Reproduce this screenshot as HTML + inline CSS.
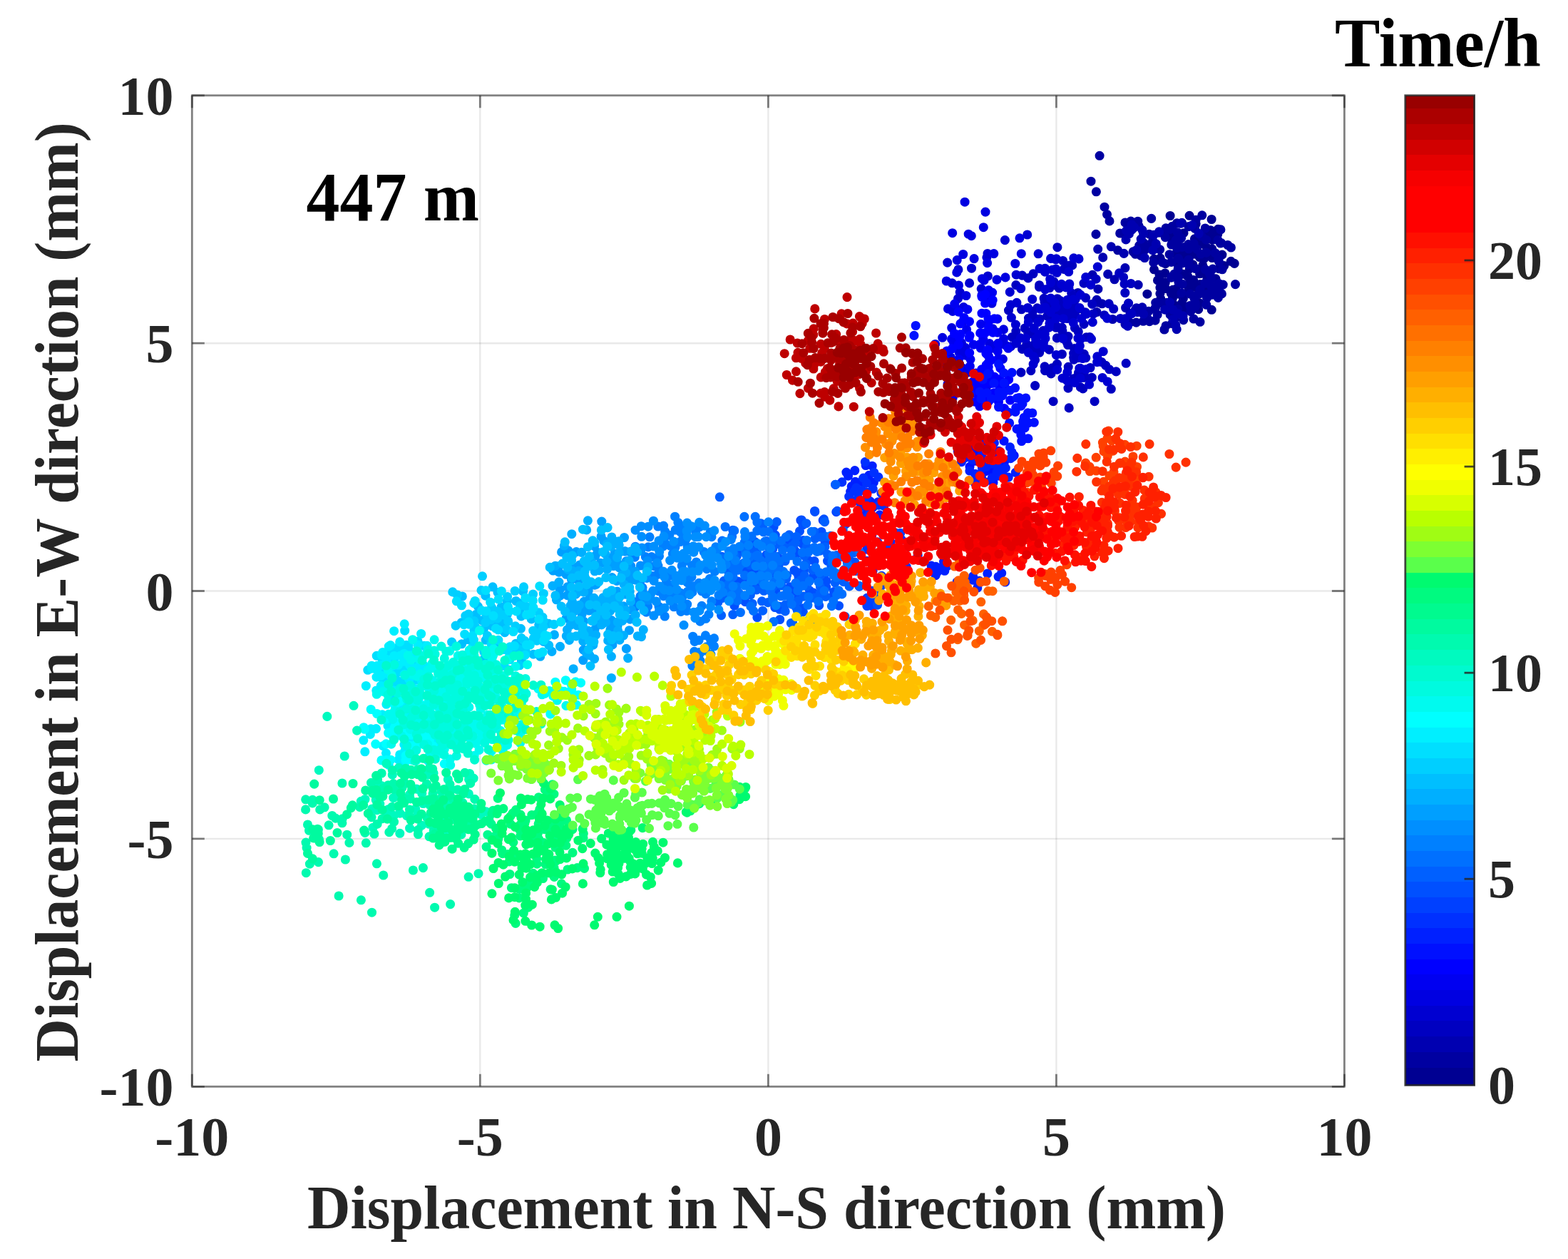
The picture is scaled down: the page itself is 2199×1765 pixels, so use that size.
<!DOCTYPE html>
<html lang="en">
<head>
<meta charset="utf-8">
<title>Displacement scatter, 447 m</title>
<style>
html,body{margin:0;padding:0;background:#fff;}
body{width:2199px;height:1765px;overflow:hidden;}
svg{display:block;filter:blur(0.7px);}
</style>
</head>
<body>
<svg width="2199" height="1765" viewBox="0 0 2199 1765" font-family="'Liberation Serif', 'Times New Roman', serif" font-weight="bold">
<rect width="2199" height="1765" fill="#fff"/>
<g stroke="#262626" stroke-opacity="0.10" stroke-width="2.4" fill="none">
<line x1="673.3" y1="133.8" x2="673.3" y2="1523.3"/>
<line x1="269.3" y1="1175.9" x2="1885.4" y2="1175.9"/>
<line x1="1077.4" y1="133.8" x2="1077.4" y2="1523.3"/>
<line x1="269.3" y1="828.5" x2="1885.4" y2="828.5"/>
<line x1="1481.4" y1="133.8" x2="1481.4" y2="1523.3"/>
<line x1="269.3" y1="481.2" x2="1885.4" y2="481.2"/>
</g>
<g fill="none" stroke-linecap="round" stroke-width="13.1">
<path stroke="#000092" d="M1707.4 411.8h0M1618.5 363.1h0M1650.3 342.2h0M1677.1 314.1h0M1627.8 419.0h0M1626.9 403.0h0M1682.2 424.8h0M1713.9 357.1h0M1667.0 405.6h0M1626.3 392.6h0M1699.2 434.3h0M1699.9 361.5h0M1688.6 362.6h0M1659.0 384.3h0M1731.2 369.4h0M1648.5 356.1h0M1705.0 390.8h0M1699.1 307.5h0M1683.0 398.6h0M1700.3 336.4h0M1643.3 335.7h0M1657.5 425.2h0M1682.3 360.5h0M1649.8 412.3h0M1682.5 342.3h0M1641.1 302.5h0M1644.3 418.4h0M1683.3 376.9h0M1726.3 366.4h0M1660.0 326.7h0M1633.9 383.0h0M1634.3 396.1h0M1688.1 329.4h0M1667.9 356.3h0M1647.9 428.4h0M1672.9 371.0h0M1626.0 385.0h0M1686.8 372.0h0M1659.5 432.8h0M1652.7 382.6h0M1699.8 349.0h0M1636.9 328.8h0M1623.5 392.9h0M1707.7 328.4h0M1676.5 402.4h0M1675.4 334.8h0M1643.3 433.1h0M1668.1 302.3h0M1680.7 433.7h0M1716.7 372.6h0M1661.3 365.9h0M1659.0 354.4h0M1659.4 418.4h0M1634.5 369.7h0M1673.6 392.6h0M1708.2 321.3h0M1649.1 405.3h0M1618.5 377.8h0M1650.7 368.9h0M1697.9 355.8h0M1692.8 389.1h0M1682.6 383.8h0M1642.3 411.2h0M1667.6 434.6h0M1673.6 356.3h0M1626.9 411.6h0M1660.1 437.0h0M1700.0 328.6h0M1665.8 387.5h0M1692.2 347.0h0M1644.8 406.4h0M1668.2 376.9h0M1641.5 327.6h0M1627.2 361.9h0M1697.7 322.7h0M1608.9 412.2h0M1634.5 404.4h0M1667.9 396.9h0M1709.3 376.6h0M1634.4 431.6h0M1690.8 405.0h0"/>
<path stroke="#0000a1" d="M1609.8 343.4h0M1692.5 417.8h0M1657.7 346.3h0M1691.8 427.3h0M1650.5 347.6h0M1667.1 364.2h0M1698.7 401.6h0M1709.0 414.2h0M1578.0 312.0h0M1708.6 406.3h0M1640.1 356.7h0M1711.9 321.9h0M1685.3 331.3h0M1556.0 309.9h0M1676.4 376.5h0M1679.6 413.1h0M1708.0 336.6h0M1589.1 352.8h0M1732.5 398.6h0M1689.8 397.1h0M1593.5 452.1h0M1642.7 367.4h0M1712.7 340.6h0M1640.7 321.4h0M1592.3 356.3h0M1658.1 368.9h0M1603.4 340.1h0M1656.9 410.8h0M1709.4 366.6h0M1614.7 306.4h0M1620.1 449.1h0M1647.1 447.3h0M1691.8 354.1h0M1721.8 343.5h0M1611.6 328.2h0M1667.0 317.6h0M1646.8 384.2h0M1609.4 446.6h0M1704.3 354.7h0M1667.1 348.8h0M1695.8 382.4h0M1595.7 310.2h0M1552.5 300.6h0M1652.9 395.5h0M1585.9 310.1h0M1652.1 376.9h0M1700.8 377.1h0M1708.4 417.4h0M1691.6 336.2h0M1697.3 385.5h0M1726.4 347.0h0M1603.3 450.3h0M1611.1 436.2h0M1690.2 320.0h0M1683.9 356.0h0M1542.1 218.3h0M1711.5 341.0h0M1675.7 320.3h0M1651.3 325.8h0M1674.2 341.6h0M1683.0 451.3h0M1570.7 327.0h0M1600.0 358.4h0M1537.4 268.8h0M1714.1 377.8h0M1699.7 413.3h0M1635.0 319.8h0M1709.4 397.6h0M1669.8 436.6h0M1642.8 343.0h0M1632.9 462.0h0M1676.4 424.8h0M1650.6 312.7h0M1652.5 362.3h0M1651.7 433.5h0M1643.7 453.7h0M1617.8 367.9h0M1674.0 447.0h0M1537.0 328.4h0M1668.8 428.5h0M1549.0 290.2h0M1690.4 377.8h0M1616.7 337.7h0M1713.4 411.9h0M1630.3 367.9h0M1658.2 398.2h0M1626.7 349.8h0M1605.5 350.4h0M1567.6 350.8h0M1666.6 342.6h0M1597.2 316.8h0M1692.8 412.5h0M1636.4 424.4h0M1715.2 399.1h0M1648.9 336.9h0M1674.9 418.1h0M1685.8 301.8h0M1641.1 441.0h0M1656.6 333.8h0M1597.8 344.2h0M1634.2 332.6h0M1659.7 448.6h0M1708.9 363.0h0M1623.2 441.0h0M1657.5 312.3h0M1652.2 389.2h0M1669.2 412.2h0M1677.1 308.2h0M1530.0 254.2h0M1678.7 349.3h0M1642.7 389.1h0M1625.4 326.1h0M1643.9 317.4h0M1635.1 456.7h0M1698.4 391.3h0M1612.1 450.6h0M1584.6 452.1h0M1620.7 424.3h0M1676.5 429.5h0M1666.7 370.6h0M1683.0 406.1h0M1628.6 424.8h0M1682.2 411.8h0M1576.2 328.0h0M1620.4 431.5h0"/>
<path stroke="#0000b1" d="M1644.8 434.1h0M1603.6 327.5h0M1577.9 375.6h0M1659.1 442.8h0M1595.2 437.6h0M1587.3 322.2h0M1539.0 424.0h0M1601.9 430.8h0M1593.8 431.9h0M1587.0 314.9h0M1616.7 350.9h0M1650.2 461.6h0M1539.9 405.2h0M1546.7 360.9h0M1625.5 324.9h0M1648.8 455.6h0M1593.9 350.5h0M1671.9 315.7h0M1578.6 431.5h0M1539.7 349.3h0M1590.8 318.8h0M1583.4 327.9h0M1633.6 434.2h0M1621.3 341.9h0M1511.7 410.5h0M1558.3 345.8h0M1579.6 323.3h0M1603.6 440.3h0M1681.2 327.3h0M1579.0 335.9h0M1553.7 384.4h0M1600.2 335.1h0M1538.1 420.3h0M1655.7 313.3h0M1532.1 385.4h0M1602.0 322.6h0M1645.0 447.7h0M1640.7 423.8h0M1618.0 329.4h0M1576.2 355.4h0M1560.4 447.5h0M1596.2 399.3h0M1592.5 434.1h0M1563.0 391.8h0M1545.5 425.8h0M1652.1 439.9h0M1538.0 437.5h0M1578.0 454.5h0M1605.3 361.5h0M1585.0 439.2h0"/>
<path stroke="#0000c1" d="M1489.9 464.2h0M1581.5 457.1h0M1425.2 476.0h0M1476.3 400.1h0M1457.5 402.3h0M1505.6 495.3h0M1482.9 418.7h0M1464.1 418.4h0M1462.9 463.6h0M1507.4 459.7h0M1496.7 446.5h0M1579.2 509.3h0M1490.6 365.5h0M1505.7 530.7h0M1499.2 571.9h0M1451.6 540.6h0M1520.0 397.1h0M1441.9 389.9h0M1414.5 435.1h0M1482.3 473.9h0M1512.4 522.6h0M1512.3 464.9h0M1529.0 515.5h0M1498.0 544.1h0M1419.4 472.5h0M1550.7 512.4h0M1480.6 456.3h0M1506.6 488.5h0M1558.3 545.3h0M1473.5 445.8h0M1502.7 410.9h0M1454.7 431.8h0M1492.0 377.4h0M1489.3 459.1h0M1513.8 516.5h0M1577.0 397.9h0M1555.2 425.8h0M1496.1 479.5h0M1474.9 426.6h0M1514.3 432.8h0M1437.3 460.0h0M1522.8 501.7h0M1497.6 483.5h0M1522.6 417.6h0M1465.1 513.8h0M1486.5 421.4h0M1523.5 472.8h0M1586.9 439.8h0M1520.1 454.4h0M1548.6 441.7h0M1458.1 447.1h0M1477.1 562.7h0M1448.3 436.5h0M1471.4 490.1h0M1491.6 440.8h0M1520.3 496.3h0M1424.8 464.3h0M1508.2 419.6h0M1500.1 372.0h0M1442.5 446.1h0M1477.9 395.0h0M1472.2 403.6h0M1531.7 426.4h0M1450.7 482.8h0M1465.5 519.7h0M1533.1 440.0h0M1515.4 542.9h0M1449.9 445.2h0M1522.0 437.7h0M1561.7 433.0h0M1497.9 432.0h0M1432.5 433.8h0M1507.4 440.7h0M1569.6 382.9h0M1489.4 496.5h0M1565.3 520.9h0M1472.7 452.3h0M1504.3 445.9h0M1446.5 467.7h0M1482.5 510.3h0M1481.0 459.3h0M1555.8 517.8h0M1439.8 482.6h0M1451.6 504.7h0M1505.6 500.9h0M1433.5 386.1h0M1575.6 388.7h0M1449.9 489.6h0M1457.6 399.7h0M1465.0 423.5h0M1504.3 437.8h0M1475.8 515.7h0M1498.0 439.4h0M1498.1 471.6h0M1431.9 522.1h0M1512.8 501.6h0M1577.8 410.5h0M1457.7 494.3h0M1506.1 504.1h0M1506.5 426.7h0M1485.4 404.0h0M1578.0 446.7h0M1505.4 432.0h0M1445.8 519.7h0M1433.5 489.4h0M1535.1 562.7h0M1449.0 383.8h0M1520.0 529.4h0M1528.1 472.5h0M1498.2 514.3h0M1424.8 399.6h0M1537.1 391.2h0M1468.7 443.1h0M1571.2 446.5h0M1482.8 441.5h0M1441.3 465.3h0M1531.3 529.2h0M1456.3 487.4h0M1490.3 432.5h0M1582.6 425.1h0M1520.2 523.0h0M1518.7 544.9h0M1513.8 493.3h0M1586.0 397.5h0M1474.0 523.9h0M1482.9 346.7h0M1544.8 507.5h0M1503.7 371.9h0"/>
<path stroke="#0000d1" d="M1538.6 507.6h0M1473.5 396.4h0M1538.8 499.9h0M1359.6 396.9h0M1518.3 502.5h0M1431.2 473.9h0M1442.3 451.7h0M1547.2 492.7h0M1385.4 387.0h0M1416.3 409.4h0M1343.5 418.7h0M1385.0 355.5h0M1454.5 482.3h0M1455.8 451.7h0M1511.9 474.1h0M1490.0 530.2h0M1456.1 355.8h0M1496.8 426.8h0M1552.8 446.3h0M1514.9 530.2h0M1471.1 459.2h0M1496.8 521.9h0M1480.6 430.6h0M1473.3 437.5h0M1449.1 510.5h0M1466.0 474.4h0M1488.7 398.4h0M1418.4 445.3h0M1514.9 516.2h0M1530.5 475.3h0M1473.5 418.1h0M1490.6 474.5h0M1343.9 377.9h0M1442.4 494.3h0M1425.9 424.4h0M1376.2 404.8h0M1515.5 475.4h0M1482.2 382.3h0M1362.5 376.2h0M1494.8 402.9h0M1465.8 405.8h0M1482.7 518.2h0M1513.2 489.8h0M1546.1 529.5h0M1480.7 377.0h0M1505.2 452.3h0M1464.6 486.7h0M1481.5 362.8h0M1417.4 427.4h0M1498.7 381.0h0M1471.9 453.6h0M1328.7 368.1h0M1473.6 362.4h0M1496.8 420.5h0M1496.5 533.7h0M1498.9 403.2h0M1491.1 446.7h0M1480.7 363.8h0M1449.5 499.9h0M1447.7 419.5h0M1424.4 455.1h0M1499.8 398.0h0M1553.2 535.0h0M1438.4 474.2h0M1431.7 404.5h0M1513.0 362.9h0M1466.1 432.5h0M1522.7 388.6h0M1481.1 446.6h0M1346.2 409.6h0M1425.2 385.2h0M1505.8 361.8h0M1465.7 431.1h0M1450.3 460.2h0M1475.9 378.4h0M1465.5 376.2h0M1539.3 374.1h0M1514.4 484.8h0M1458.0 376.5h0M1417.6 485.7h0M1465.5 381.1h0M1529.7 399.4h0M1383.9 360.8h0M1425.5 481.2h0M1463.5 480.2h0M1479.0 424.1h0M1441.4 431.5h0M1507.1 536.4h0M1472.7 391.5h0M1505.3 419.8h0M1457.1 468.7h0M1465.3 468.0h0M1459.3 433.3h0M1522.8 517.8h0M1514.0 431.5h0M1452.5 475.0h0M1515.3 413.4h0M1335.2 396.8h0M1409.4 336.6h0M1523.9 440.1h0M1527.6 539.0h0M1481.3 497.6h0M1516.6 446.5h0M1440.7 329.0h0M1532.3 451.7h0"/>
<path stroke="#0000e1" d="M1391.4 488.1h0M1380.1 392.9h0M1391.0 425.3h0M1382.0 297.1h0M1430.0 333.8h0M1376.6 525.9h0M1350.0 516.1h0M1342.7 434.0h0M1406.4 503.3h0M1392.1 460.7h0M1407.5 474.9h0M1334.7 459.6h0M1327.3 394.0h0M1336.0 436.4h0M1377.2 564.9h0M1407.4 461.9h0M1387.6 481.5h0M1353.1 283.2h0M1351.9 520.3h0M1384.6 368.6h0M1354.0 487.6h0M1398.0 392.1h0M1329.5 432.9h0M1399.1 487.1h0M1348.5 480.7h0M1384.9 515.5h0M1393.8 355.6h0M1354.2 498.1h0M1345.2 494.0h0M1342.2 364.6h0M1432.3 355.7h0M1409.1 538.3h0M1379.3 318.7h0M1362.3 330.7h0M1383.1 544.3h0M1335.7 326.7h0M1354.9 414.5h0M1341.8 381.9h0M1311.6 482.5h0M1410.7 484.4h0M1377.4 390.7h0M1358.2 328.2h0M1423.8 369.5h0M1350.0 451.3h0M1410.0 388.9h0M1344.5 400.0h0M1333.4 501.0h0M1357.2 522.0h0M1351.3 430.6h0M1386.7 418.9h0M1386.5 499.3h0M1350.7 356.5h0M1366.1 362.6h0M1321.7 473.3h0"/>
<path stroke="#0000f1" d="M1391.6 410.1h0M1334.6 475.4h0M1387.2 449.8h0M1356.9 433.7h0M1337.7 481.2h0M1338.8 426.1h0M1390.5 530.3h0M1399.7 481.3h0M1361.0 503.8h0M1382.5 549.1h0M1384.5 559.2h0M1365.4 483.1h0M1329.1 538.3h0M1376.8 413.9h0M1355.6 461.9h0M1364.5 535.1h0M1351.1 542.2h0M1376.4 552.2h0M1361.0 552.0h0M1375.4 488.0h0M1376.2 529.3h0M1398.8 447.1h0M1386.5 406.8h0M1386.2 508.4h0M1400.0 503.0h0M1344.6 503.5h0M1373.9 569.5h0M1360.3 513.4h0M1378.8 474.8h0M1414.0 488.3h0M1398.9 466.1h0M1327.1 509.9h0M1399.2 492.5h0M1375.1 482.0h0M1381.2 530.3h0M1336.2 557.7h0M1375.6 454.4h0"/>
<path stroke="#0000ff" d="M1352.1 445.5h0M1345.5 472.9h0M1359.7 494.7h0M1327.9 492.0h0M1386.1 563.2h0M1378.6 542.7h0M1383.3 537.3h0M1385.2 490.5h0M1392.2 420.7h0M1359.2 473.3h0M1401.3 535.2h0M1345.7 510.7h0M1368.6 523.1h0M1369.7 537.8h0M1394.4 446.8h0M1402.2 544.2h0M1383.0 511.9h0M1369.1 531.9h0M1346.8 453.9h0M1386.2 514.5h0M1370.0 551.8h0M1374.7 466.9h0M1377.5 535.4h0M1416.7 561.0h0M1385.9 446.8h0M1344.6 515.7h0M1347.0 468.5h0M1393.9 550.7h0M1360.0 470.5h0M1381.3 466.9h0M1400.5 563.4h0M1377.0 439.2h0M1397.8 535.6h0M1359.5 450.7h0M1386.5 458.8h0M1324.9 502.6h0M1386.3 556.7h0M1327.3 516.9h0M1381.7 412.8h0M1392.5 466.2h0M1382.9 439.5h0M1367.7 563.3h0M1344.2 437.2h0M1377.1 416.3h0M1408.4 572.5h0M1394.7 528.3h0M1390.2 504.7h0M1335.3 488.8h0M1338.6 467.5h0M1344.3 483.2h0M1401.9 531.7h0M1389.9 537.5h0M1369.7 544.4h0M1376.7 517.8h0M1382.9 495.6h0M1387.4 522.5h0M1376.8 545.6h0M1402.9 516.2h0M1381.6 425.0h0M1414.6 532.2h0"/>
<path stroke="#0010ff" d="M1407.8 522.9h0M1434.0 565.9h0M1380.8 622.8h0M1393.0 676.5h0M1400.6 510.6h0M1360.0 654.3h0M1438.6 558.0h0M1422.2 638.6h0M1400.6 556.7h0M1394.0 537.2h0M1426.3 558.2h0M1414.2 578.1h0M1400.5 570.5h0M1375.7 624.8h0M1434.1 597.7h0M1382.3 660.7h0M1429.3 557.6h0M1376.0 559.0h0M1390.2 559.0h0M1431.9 569.2h0M1409.3 670.3h0M1385.2 524.4h0M1424.0 577.4h0M1378.4 532.0h0M1408.4 648.1h0M1438.3 584.9h0M1365.4 623.4h0M1407.8 549.8h0M1349.4 620.4h0M1405.8 554.7h0M1351.9 632.3h0M1281.9 470.4h0M1284.2 456.5h0M1426.1 601.4h0M1370.5 633.1h0M1419.1 522.4h0M1415.6 593.0h0M1441.4 578.9h0M1369.1 670.7h0M1416.2 547.3h0M1343.3 632.4h0M1373.9 549.2h0M1384.2 550.8h0M1401.0 549.7h0M1431.0 604.4h0M1367.8 646.1h0M1431.8 609.5h0M1386.0 649.3h0M1408.1 537.0h0M1441.9 614.8h0M1408.0 618.2h0M1437.1 599.9h0M1434.6 590.7h0M1442.2 592.9h0M1447.8 579.0h0M1436.3 585.2h0M1363.4 633.4h0M1360.5 552.2h0M1432.7 618.5h0M1391.7 662.1h0M1423.6 543.8h0M1450.3 592.3h0M1424.7 571.6h0"/>
<path stroke="#0020ff" d="M1189.5 667.2h0M1224.1 711.4h0M1409.7 816.0h0M1352.5 808.8h0M1225.3 676.4h0M1348.5 647.7h0M1416.5 626.9h0M1392.0 650.1h0M1420.1 640.6h0M1321.9 794.7h0M1214.2 652.5h0M1400.7 632.2h0M1367.5 677.3h0M1239.2 698.8h0M1399.8 667.1h0M1314.6 801.8h0M1419.1 634.0h0M1329.3 793.1h0M1376.3 669.2h0M1404.7 803.5h0M1400.4 656.3h0M1216.6 716.9h0M1417.3 642.7h0M1231.4 703.9h0M1382.9 619.6h0M1208.4 674.9h0M1353.3 815.4h0M1220.2 702.7h0M1208.1 722.6h0M1391.2 669.8h0M1390.2 626.6h0M1373.5 814.4h0M1350.7 819.0h0M1364.6 807.9h0M1306.1 793.1h0M1318.5 798.9h0M1194.2 681.9h0M1218.7 666.4h0M1353.6 641.6h0M1364.8 813.3h0M1223.2 653.2h0M1383.2 654.4h0M1192.7 689.2h0M1394.4 620.8h0M1406.9 659.1h0M1199.5 675.3h0M1399.6 646.8h0M1377.4 656.0h0M1368.3 619.6h0M1305.4 800.3h0M1198.8 659.6h0M1370.8 824.0h0M1186.9 662.1h0M1359.9 660.0h0M1367.7 664.4h0M1233.7 721.9h0M1400.1 808.5h0M1366.6 812.7h0M1363.7 644.8h0M1381.6 675.7h0M1342.0 816.0h0M1214.9 704.4h0M1398.1 661.6h0M1312.2 806.6h0M1195.4 704.3h0M1324.8 800.3h0M1323.5 787.4h0M1410.3 656.1h0M1424.3 662.4h0M1312.4 794.4h0M1384.8 804.0h0M1377.3 636.0h0M1376.9 641.8h0M1414.2 669.1h0M1397.9 640.7h0"/>
<path stroke="#0030ff" d="M1215.8 698.1h0M1270.8 798.4h0M1218.0 722.3h0M1198.3 688.5h0M1222.9 749.9h0M1206.5 730.3h0M1224.2 685.3h0M1190.7 696.2h0M1239.6 709.4h0M1224.1 800.3h0M1213.3 647.6h0M1273.3 766.4h0M1203.4 697.9h0M1215.7 770.1h0M1200.7 683.8h0M1232.3 708.2h0M1231.9 668.9h0M1235.9 691.3h0M1197.7 791.9h0M1254.7 798.5h0M1229.3 782.6h0M1180.8 675.9h0M1287.2 778.4h0M1225.8 662.5h0M1249.2 760.2h0M1215.3 677.1h0M1189.6 773.0h0M1208.8 687.4h0M1264.3 756.6h0M1271.2 794.5h0M1215.8 690.3h0M1215.4 786.3h0M1210.8 670.1h0M1207.4 710.4h0M1236.4 807.3h0M1221.9 766.1h0M1204.3 702.2h0"/>
<path stroke="#0040ff" d="M1220.8 841.1h0M1265.2 793.5h0M1287.7 751.9h0M1223.3 828.2h0M1213.5 842.2h0M1185.5 735.1h0M1255.5 746.8h0M1142.6 716.5h0M1249.1 774.8h0M1154.2 729.3h0M1235.6 821.6h0M1223.0 837.4h0M1223.3 849.8h0M1122.9 729.3h0M1215.8 838.3h0M1262.7 747.4h0M1230.8 759.9h0M1258.3 778.6h0M1222.8 791.4h0M1205.1 822.1h0M1272.4 810.1h0M1245.5 765.7h0M1171.6 679.4h0M1172.8 717.7h0M1230.6 842.0h0M1255.7 792.5h0M1215.9 849.5h0M1234.5 833.3h0"/>
<path stroke="#0050ff" d="M1140.4 830.7h0M1087.1 808.1h0M1126.4 757.5h0M1058.7 817.6h0M1106.6 757.6h0M1061.1 773.9h0M1035.0 815.0h0M1126.3 857.6h0M1142.8 717.4h0M1043.6 773.9h0M1058.6 759.5h0M1028.6 821.4h0M1113.9 799.5h0M1061.9 865.5h0M1156.0 805.6h0M1108.8 830.1h0M1116.8 801.8h0M1071.3 822.9h0M1090.7 780.3h0M1160.5 786.3h0M1093.4 854.3h0M1083.8 769.5h0M1051.4 822.5h0M1087.7 828.1h0M1148.7 848.7h0M1048.3 795.0h0M1087.3 750.1h0M1230.5 848.2h0M1176.5 849.2h0M1190.5 783.3h0M1052.8 766.9h0M1062.5 801.0h0M1030.0 849.2h0M1198.8 788.0h0M1114.9 772.1h0M1085.1 738.8h0M1126.1 763.2h0M1116.6 777.4h0M1060.2 793.2h0M1133.8 785.3h0M1051.8 798.0h0M1116.4 851.1h0M1083.8 757.8h0M1046.6 758.4h0M1062.7 785.8h0M1107.6 822.8h0M1159.1 814.7h0M1045.0 843.7h0M1047.1 763.0h0M1158.7 823.1h0M1075.1 777.5h0M1197.6 774.7h0M1152.0 745.5h0M1119.9 808.2h0M1157.2 760.7h0M1086.8 851.5h0M1174.1 716.3h0M1142.1 786.6h0M1093.7 868.5h0M1140.6 807.7h0M1127.1 800.0h0M1153.2 832.2h0M1030.2 771.0h0M1060.9 820.9h0M1135.4 827.8h0M1155.5 727.9h0M1124.2 729.0h0M1043.8 798.2h0M1121.5 744.6h0M1044.2 814.8h0M1092.5 850.0h0M1167.2 836.5h0M1126.0 735.8h0M1169.5 829.6h0M1034.6 771.3h0M1125.3 852.8h0M1120.0 834.9h0"/>
<path stroke="#0060ff" d="M1156.6 731.6h0M1110.9 765.8h0M1079.1 825.1h0M1171.8 679.2h0M1151.4 805.7h0M1082.3 767.9h0M1071.3 828.3h0M1015.3 814.3h0M1051.9 753.0h0M1184.9 864.2h0M1131.5 821.6h0M1130.8 733.7h0M1056.7 773.0h0M1188.3 788.9h0M1130.1 790.5h0M1089.3 731.6h0M1182.2 743.5h0M1141.8 838.0h0M1020.4 799.7h0M1095.8 820.9h0M1084.4 822.3h0M1027.8 861.5h0M1088.5 785.2h0M1018.9 835.4h0M1027.8 743.2h0M1150.3 822.6h0M1007.0 844.1h0M1115.5 761.1h0M1092.0 793.6h0M1033.4 779.5h0M1076.9 844.6h0M1099.9 767.4h0M1073.0 809.4h0M1116.9 752.4h0M1143.0 755.1h0M1135.4 839.4h0M1101.1 786.5h0M1209.2 799.9h0M1119.3 842.3h0M1127.2 836.1h0M1160.7 777.4h0M1123.1 813.2h0M1084.6 779.8h0M1141.7 745.2h0M1094.0 763.6h0M1111.5 873.2h0M1067.3 733.9h0M1181.2 780.6h0M1009.3 696.8h0M1158.2 752.2h0M1119.3 823.5h0M1131.3 766.5h0M1101.3 847.8h0M1171.1 816.8h0M1051.6 792.0h0M1182.9 815.7h0M1055.1 846.2h0M1052.4 834.0h0M1047.9 778.5h0M1139.3 799.0h0M1194.6 775.0h0M1012.3 780.2h0M1012.5 838.6h0M1074.7 758.5h0M1173.2 778.6h0M1151.7 753.0h0M1085.9 801.1h0M1150.1 831.6h0M1103.6 806.3h0M1102.6 811.5h0M1118.1 855.1h0M1069.6 856.2h0M1061.1 826.9h0M1101.2 856.9h0M1157.9 836.4h0M1156.9 766.7h0M1191.1 821.9h0M1027.8 841.8h0M1053.8 779.0h0M1128.2 806.7h0M1205.0 821.2h0M1068.5 842.8h0M1165.8 793.6h0M1069.5 739.2h0M1109.7 842.7h0M1106.8 749.8h0M1055.7 787.4h0M1026.7 787.1h0M1150.1 772.1h0M1011.6 862.6h0M1109.3 873.6h0M1127.9 779.2h0"/>
<path stroke="#0070ff" d="M1182.1 806.4h0M1020.2 785.6h0M1077.8 745.3h0M1148.1 816.2h0M1172.8 803.7h0M1134.0 836.7h0M1078.7 800.3h0M1134.7 868.4h0M1167.4 799.2h0M1095.2 835.8h0M1012.5 782.9h0M1102.4 781.7h0M1176.2 827.7h0M1027.2 795.1h0M1085.5 796.3h0M1164.9 751.4h0M1051.3 780.8h0M1044.4 806.6h0M1033.6 822.5h0M1083.6 836.5h0M1094.9 813.4h0M1098.5 835.3h0M1098.5 801.3h0M1076.8 765.8h0M1029.3 777.8h0M1078.2 776.3h0M1012.9 758.1h0M1147.7 843.2h0M1052.8 850.1h0M1059.2 724.3h0M1110.3 847.1h0M1076.9 806.8h0M1028.6 830.0h0M1062.8 808.5h0M1078.7 785.0h0M1184.0 798.6h0M1085.5 816.5h0M1150.4 768.1h0M1127.7 793.2h0M1145.7 773.4h0M1017.1 738.5h0M1173.6 834.1h0M1189.3 792.8h0M1167.0 787.5h0M1026.9 829.9h0M1062.8 778.2h0M1066.7 785.6h0M1110.0 771.6h0M1036.0 830.8h0M1166.4 849.7h0M1133.6 774.0h0M1028.0 808.4h0M1118.8 828.1h0M1092.2 800.4h0M1158.8 801.7h0M1126.2 821.2h0M1023.3 812.1h0M1034.1 842.2h0M1038.4 858.5h0M1138.3 745.2h0M1021.1 786.0h0M1043.9 724.4h0M1097.6 771.3h0M1043.0 789.4h0M1085.7 814.7h0M1030.1 793.4h0M1095.4 758.3h0M1125.3 774.5h0M1037.2 793.6h0M1077.4 795.5h0M1061.9 732.2h0M1045.5 774.0h0M1029.8 743.9h0M1060.7 779.2h0M1061.8 744.1h0M1080.5 828.4h0M1026.7 751.9h0M1069.2 815.6h0M1184.1 774.1h0M1180.8 832.9h0M1087.5 780.4h0M1206.3 775.2h0M1181.9 767.2h0M1012.7 791.5h0M1082.3 760.2h0M1138.2 875.1h0M1054.1 751.9h0M1095.1 808.1h0M1020.8 829.2h0M1027.6 807.3h0M1107.6 837.3h0M1109.2 778.8h0M1044.3 760.2h0M1149.2 802.7h0M1143.8 795.6h0M1085.0 871.5h0M1132.9 848.3h0M1069.6 799.5h0M1072.4 759.4h0M1092.7 786.8h0M1084.2 841.8h0M1079.0 792.2h0M1034.9 799.3h0M1070.7 745.9h0M1168.8 842.7h0M1131.4 757.5h0M1056.6 856.4h0M1079.7 788.2h0M1102.2 752.8h0M1118.0 787.1h0M1168.2 805.8h0M1115.9 817.3h0M1156.0 828.3h0M1019.2 821.0h0M1200.4 800.6h0M1142.0 767.5h0M1135.2 814.8h0M1104.2 828.1h0M1118.1 863.0h0M1035.2 835.3h0M1173.1 809.7h0M1168.0 779.2h0"/>
<path stroke="#0080ff" d="M981.9 926.1h0M964.3 816.9h0M931.7 760.2h0M1052.5 827.5h0M1028.0 774.1h0M964.3 829.2h0M1077.7 731.9h0M1029.2 769.0h0M997.9 842.9h0M980.1 897.5h0M900.5 843.4h0M964.3 806.0h0M989.8 832.7h0M981.9 871.1h0M922.2 805.4h0M1008.0 834.4h0M1025.3 756.4h0M1046.4 788.4h0M1044.9 752.0h0M1013.7 830.4h0M890.7 851.4h0M943.4 776.4h0M1046.6 778.2h0M961.6 756.6h0M974.2 899.4h0M1010.2 820.5h0M1081.7 821.0h0M909.1 766.9h0M987.4 793.2h0M1071.7 819.9h0M1001.5 894.9h0M1005.5 770.7h0M922.8 738.0h0M996.9 917.3h0M1068.2 766.0h0M989.4 890.8h0M890.5 843.9h0M1076.0 820.9h0M990.7 906.9h0M1028.1 821.8h0M889.0 806.4h0M1059.9 793.7h0M956.2 793.0h0M972.3 821.6h0M1021.8 808.1h0M1066.8 807.0h0M1018.1 791.4h0M1003.7 766.9h0M989.9 867.3h0M930.5 835.6h0M934.5 814.9h0M996.5 896.8h0M980.8 914.5h0M996.2 746.1h0M922.9 793.2h0M1080.6 768.6h0M946.9 767.1h0M998.0 752.7h0M930.5 737.1h0M972.8 927.7h0M994.0 861.4h0M970.5 792.6h0M913.8 780.6h0M898.0 814.4h0M1070.0 793.9h0M984.2 828.8h0M971.0 830.1h0M1101.3 805.8h0M939.7 806.8h0M954.9 857.4h0M1088.2 848.7h0M945.6 825.4h0M963.1 856.4h0M890.2 781.2h0M1093.8 817.8h0M909.0 795.0h0M946.6 724.2h0M988.7 821.0h0M970.0 808.8h0M971.7 892.2h0M905.3 780.6h0M1049.8 764.4h0M995.4 811.3h0M991.2 797.6h0M958.0 786.7h0M1031.4 785.7h0M954.5 831.4h0M924.5 779.7h0M981.2 738.7h0M947.1 743.0h0M924.0 850.3h0M891.1 766.2h0M1025.8 834.8h0M958.0 751.6h0M1083.6 792.6h0M939.0 819.7h0M964.6 736.9h0M956.7 837.2h0M938.8 750.3h0M1002.4 801.2h0M1091.1 806.9h0M981.1 916.8h0M917.6 793.8h0M984.2 849.3h0M1001.5 906.0h0M1022.3 772.6h0M1054.2 807.2h0M878.4 786.7h0M930.1 765.8h0M1044.6 834.8h0M949.0 837.0h0M963.7 847.1h0M997.9 932.1h0M955.5 738.0h0M970.9 933.4h0M980.2 817.3h0M975.6 745.3h0M1076.5 807.9h0M953.9 759.5h0M961.1 786.3h0M976.5 788.0h0M987.1 773.5h0M945.1 850.8h0M941.5 835.1h0M973.7 913.3h0M1084.9 752.8h0M1037.3 766.2h0M924.8 800.8h0M988.4 911.9h0M997.0 903.7h0M932.7 745.2h0M1044.4 745.6h0M932.3 864.0h0M1062.7 762.1h0M1057.6 814.0h0M908.6 849.9h0M901.1 823.8h0M1053.5 814.7h0M906.3 858.1h0M939.9 765.1h0M1044.3 820.8h0M897.9 835.9h0M907.6 801.0h0M954.1 745.6h0M911.1 752.8h0M964.2 766.5h0M950.9 732.5h0M915.4 807.5h0M923.5 828.6h0"/>
<path stroke="#008fff" d="M954.4 840.6h0M979.9 766.8h0M901.1 828.3h0M1008.0 854.9h0M924.0 758.0h0M900.2 768.0h0M898.3 793.0h0M963.6 733.1h0M996.8 827.7h0M969.7 737.7h0M986.5 825.9h0M980.7 732.4h0M931.6 808.6h0M972.4 765.7h0M989.7 778.7h0M967.3 833.6h0M974.9 866.4h0M979.3 800.3h0M921.6 789.0h0M908.2 786.4h0M961.9 801.6h0M953.9 782.0h0M884.6 793.5h0M958.5 776.1h0M907.1 810.4h0M1022.4 842.6h0M883.9 773.5h0M972.9 774.1h0M982.0 792.3h0M990.3 752.6h0M1001.7 743.9h0M988.8 816.7h0M997.7 782.7h0M972.8 858.4h0M1004.7 822.0h0M916.8 766.0h0M998.3 792.3h0M964.3 752.5h0M948.2 807.0h0M917.1 814.3h0M981.4 823.4h0M916.4 730.2h0M957.5 801.4h0M891.1 743.2h0M899.3 737.7h0M942.1 799.4h0M930.1 801.0h0M949.7 782.1h0M882.6 804.3h0M979.3 752.5h0M925.4 822.0h0M997.9 772.9h0M1010.9 788.9h0M947.6 815.5h0M956.2 808.8h0M908.3 835.2h0M956.1 849.9h0M996.4 850.6h0M899.8 752.3h0M908.9 841.3h0M1013.1 765.7h0M938.6 827.9h0M1012.4 797.8h0M981.0 856.2h0M909.0 738.2h0M988.3 737.1h0M971.1 801.9h0M915.8 828.3h0M964.1 770.8h0M924.8 773.3h0M1021.7 779.9h0M912.3 833.8h0M1006.3 782.0h0M876.8 773.0h0M1002.2 813.6h0M947.0 775.6h0M898.7 772.2h0M931.0 751.8h0M1017.7 759.6h0M932.2 852.3h0M996.7 820.1h0M959.0 876.3h0M949.7 839.9h0M1011.8 793.9h0M963.3 782.8h0M956.0 813.7h0M963.2 744.5h0M939.9 842.4h0M944.8 759.1h0M924.4 856.7h0M916.8 863.0h0M920.3 843.1h0M949.0 826.5h0M939.6 785.6h0M991.5 788.3h0M931.7 826.9h0M975.1 752.7h0"/>
<path stroke="#009fff" d="M834.7 843.2h0M855.9 882.7h0M783.8 793.8h0M785.3 826.2h0M882.9 802.6h0M834.0 820.2h0M801.5 812.4h0M858.9 781.4h0M875.5 814.4h0M795.7 834.6h0M868.6 795.8h0M858.0 877.0h0M865.7 829.1h0M877.4 788.5h0M796.9 771.8h0M825.1 841.6h0M812.8 792.1h0M833.6 765.6h0M846.7 758.2h0M892.3 813.3h0M820.4 848.5h0M842.0 850.6h0M880.4 795.0h0M861.8 776.0h0M834.0 882.6h0M775.7 800.0h0M857.6 869.6h0M865.0 814.4h0M807.4 833.1h0M883.7 868.2h0M864.8 787.0h0M817.8 925.5h0M825.1 828.2h0M901.4 835.3h0M874.5 849.8h0M836.2 855.4h0M835.0 779.1h0M843.7 870.3h0M794.0 805.3h0M838.1 774.2h0M842.1 789.3h0M787.6 773.9h0M876.8 833.1h0M858.3 809.6h0M884.7 813.3h0M836.0 819.4h0M907.0 836.3h0M785.5 835.2h0M818.4 870.9h0M819.1 843.3h0M818.5 854.9h0M890.7 801.0h0M826.3 856.0h0M843.8 731.1h0M878.4 909.4h0M795.8 822.8h0M866.1 877.6h0M885.6 855.0h0M816.1 861.2h0M808.2 773.6h0M794.3 866.5h0M876.4 772.8h0M882.5 883.7h0M837.4 876.5h0M818.3 911.1h0M875.5 753.5h0M860.3 793.5h0M801.8 793.5h0M858.9 903.9h0M851.7 793.6h0M811.4 813.9h0M827.4 837.4h0M843.1 752.0h0M783.9 802.1h0"/>
<path stroke="#00afff" d="M777.4 889.9h0M877.8 803.0h0M868.6 848.7h0M849.4 872.4h0M845.8 837.8h0M809.4 877.0h0M890.8 767.8h0M829.1 787.2h0M865.6 781.7h0M880.6 922.6h0M775.0 821.4h0M799.9 876.3h0M802.5 843.4h0M822.6 742.9h0M893.6 774.1h0M894.3 891.7h0M872.8 870.4h0M868.2 774.8h0M851.1 762.7h0M822.6 915.7h0M785.5 906.4h0M869.0 897.2h0M804.2 857.9h0M803.6 868.4h0M874.5 890.8h0M899.5 892.6h0M834.1 800.8h0M867.2 839.8h0M867.7 758.7h0M795.4 882.8h0M860.5 760.1h0M872.6 806.1h0M835.6 890.1h0M851.4 798.1h0M801.8 748.7h0M851.0 837.8h0M884.5 843.0h0M866.6 884.0h0M882.2 785.8h0M778.8 793.2h0M783.9 816.1h0M866.3 872.0h0M843.6 875.9h0M831.9 904.1h0M885.5 772.8h0M780.4 840.8h0M817.7 898.8h0M857.9 753.0h0M833.0 838.3h0M908.8 794.9h0M819.7 807.5h0M840.1 799.7h0M794.3 891.6h0M857.4 920.3h0M891.2 862.2h0M859.6 835.9h0M762.3 899.4h0M833.6 923.7h0M798.4 897.4h0M859.2 843.1h0M857.4 950.5h0M800.0 849.1h0M842.5 864.6h0M844.5 842.1h0M883.2 829.5h0M877.1 855.5h0M825.2 884.3h0M855.7 856.7h0M791.3 764.9h0M811.5 800.4h0M850.8 787.2h0M812.4 848.3h0M902.3 882.8h0M824.4 729.8h0M898.2 848.2h0M757.7 920.3h0M848.6 776.2h0M809.1 854.8h0M868.2 764.3h0M829.0 890.6h0M902.9 855.8h0M856.8 766.2h0M875.2 819.2h0M815.6 774.4h0M818.7 830.2h0M809.4 831.0h0M850.7 841.2h0M773.9 913.4h0M852.7 897.9h0M804.1 937.7h0M802.8 800.3h0M796.6 798.4h0M826.9 918.6h0"/>
<path stroke="#00bfff" d="M698.0 830.5h0M690.9 854.6h0M675.8 869.7h0M831.2 757.8h0M681.2 897.3h0M833.7 792.4h0M769.4 874.3h0M843.4 743.0h0M778.9 834.9h0M829.0 815.9h0M867.9 891.8h0M826.5 779.9h0M801.6 785.7h0M876.4 828.4h0M711.2 842.6h0M907.3 801.2h0M688.7 926.2h0M807.9 891.9h0M788.9 790.1h0M823.0 819.7h0M656.6 893.5h0M831.9 870.5h0M680.9 835.2h0M849.8 809.6h0M839.8 815.6h0M817.5 742.2h0M792.3 759.8h0M871.0 810.2h0M647.6 902.8h0M811.4 806.9h0M748.0 917.2h0M830.0 870.4h0M819.2 786.6h0M802.8 835.0h0M851.9 766.0h0M678.2 882.8h0M816.8 886.0h0M714.2 939.2h0M792.5 857.2h0M826.8 847.8h0M703.9 869.3h0M869.2 861.4h0M819.1 890.1h0M821.4 811.3h0M825.7 793.6h0M794.8 781.3h0M868.1 855.0h0M876.4 862.8h0M769.7 904.6h0M901.2 810.0h0M801.3 823.3h0M686.2 914.8h0M852.1 739.6h0M659.2 920.4h0M852.6 889.4h0M897.4 823.1h0M802.3 810.2h0M703.0 850.9h0M723.5 902.2h0M893.1 872.2h0M745.3 867.9h0M723.6 842.5h0M828.0 933.7h0M730.4 881.3h0M859.9 812.7h0M859.7 891.6h0M801.3 864.7h0M826.6 898.3h0M690.2 877.7h0M706.4 876.4h0M832.9 899.7h0M670.3 850.1h0M698.9 871.9h0M722.6 912.6h0M787.2 850.1h0M691.0 822.8h0M731.5 907.9h0M824.4 766.7h0M648.3 836.0h0M842.6 855.9h0M850.1 851.0h0M771.2 795.4h0M875.1 793.8h0M861.7 849.5h0M730.9 863.9h0M857.9 896.8h0M833.6 760.4h0M811.7 822.4h0M851.6 831.0h0M696.7 906.3h0M822.1 789.2h0M679.1 924.0h0M893.9 806.6h0M707.9 886.7h0M681.7 876.8h0M795.7 795.3h0M845.5 773.7h0M835.5 864.4h0M728.9 855.9h0M850.1 862.0h0M825.5 910.3h0M800.8 892.7h0M731.3 925.8h0M869.2 836.6h0M647.1 872.8h0M853.4 910.6h0M667.6 861.3h0M703.8 853.8h0M802.6 778.8h0M817.4 877.8h0M755.7 876.0h0M733.6 829.1h0M884.0 836.5h0M857.7 827.7h0M688.3 939.5h0M882.7 823.5h0M836.1 848.5h0M812.7 869.5h0M820.0 800.9h0M711.3 861.6h0M729.9 845.7h0M656.6 896.7h0"/>
<path stroke="#00cfff" d="M688.7 900.5h0M776.9 875.4h0M676.5 807.8h0M711.6 836.5h0M729.5 849.0h0M675.0 827.6h0M697.5 866.9h0M734.5 822.9h0M748.4 894.6h0M657.1 861.0h0M722.2 828.5h0M688.7 868.5h0M736.0 898.3h0M664.9 883.6h0M698.2 857.2h0M752.9 898.1h0M683.5 891.4h0M738.1 850.4h0M678.7 913.5h0M760.0 884.5h0M747.5 833.1h0M652.8 863.4h0M710.4 882.5h0M695.6 936.4h0M639.1 877.1h0M681.0 872.5h0M747.7 884.2h0M722.8 877.8h0M634.8 829.9h0M664.7 870.5h0M762.3 832.2h0M731.3 894.6h0M728.8 932.8h0M760.9 865.2h0M633.6 900.1h0M706.5 862.1h0M673.7 883.0h0M689.5 851.6h0M755.8 858.8h0M727.4 910.1h0M721.5 917.9h0M712.7 871.0h0M761.9 879.0h0M666.1 877.8h0M682.2 861.5h0M641.5 834.1h0M762.1 870.0h0M753.4 892.9h0M737.4 913.6h0M679.9 933.0h0"/>
<path stroke="#00dfff" d="M714.6 918.8h0M562.2 955.6h0M555.4 944.8h0M528.2 919.3h0M647.4 848.8h0M724.1 856.9h0M767.7 891.7h0M786.6 871.9h0M695.5 881.1h0M559.6 961.2h0M546.6 979.3h0M738.6 862.0h0M689.4 903.9h0M554.8 952.2h0M706.2 910.5h0M586.0 899.0h0M549.4 959.0h0M738.4 904.1h0M736.5 918.4h0M707.4 933.9h0M552.4 975.2h0M535.5 940.9h0M559.9 905.7h0M690.5 920.9h0M552.4 924.8h0M761.2 841.3h0M764.4 890.6h0M744.8 860.2h0M748.1 852.0h0M536.9 966.3h0M657.3 871.8h0M573.1 905.1h0M715.2 906.8h0M662.7 906.9h0M537.5 953.1h0M543.2 913.8h0M558.6 939.4h0M698.8 883.0h0M552.4 984.5h0M648.9 918.2h0M714.3 856.5h0M664.5 897.1h0M569.7 904.2h0M608.9 933.1h0M736.9 838.1h0M536.2 924.4h0M567.8 935.2h0M593.4 946.5h0M662.7 891.4h0M761.2 914.1h0M589.5 919.4h0M568.6 989.1h0M675.5 855.9h0M567.7 884.2h0M681.3 827.7h0M583.9 927.5h0M555.5 911.4h0M576.0 913.2h0M698.9 897.4h0M650.6 875.7h0M703.3 828.7h0M687.7 844.2h0M715.0 924.8h0M755.4 916.2h0M719.9 885.5h0M666.2 842.5h0M568.3 959.2h0M574.3 939.4h0M711.4 910.3h0M651.7 889.2h0M691.9 863.3h0M743.3 904.0h0M594.9 905.4h0M699.1 840.0h0M515.8 939.3h0M569.7 979.9h0M583.9 953.2h0M721.4 905.5h0M756.8 821.7h0M562.5 912.8h0M657.8 875.1h0M664.7 845.7h0M568.5 940.1h0M603.8 934.6h0M681.6 856.7h0M755.8 868.0h0M747.4 842.0h0M576.2 961.0h0M567.9 914.7h0M762.6 897.8h0M552.6 939.1h0M640.3 842.8h0M591.4 926.4h0M712.4 850.6h0"/>
<path stroke="#00efff" d="M623.6 1019.5h0M602.4 974.8h0M560.7 899.9h0M542.3 924.5h0M608.3 1051.0h0M558.5 932.3h0M583.2 1022.3h0M566.8 1043.8h0M607.0 1036.5h0M577.1 918.5h0M567.2 874.8h0M541.4 1055.8h0M617.2 1044.8h0M551.7 1010.5h0M558.9 1030.1h0M590.6 888.5h0M585.8 935.3h0M552.6 884.7h0M584.0 1048.9h0M552.9 919.5h0M575.8 997.6h0M561.7 986.9h0M575.6 1009.5h0M588.9 993.5h0M616.2 1001.2h0M534.5 947.1h0M575.1 980.5h0M527.5 1021.6h0M570.4 1014.0h0M511.8 1053.8h0M535.5 932.2h0M571.2 948.0h0M541.9 987.3h0M534.2 961.5h0M578.0 1038.3h0M566.5 994.1h0M566.7 916.4h0M596.6 1043.9h0M529.0 933.4h0M576.8 1023.7h0M600.6 1003.1h0M537.1 1045.7h0M634.9 1009.1h0M527.8 968.0h0M550.7 933.4h0M601.7 1009.5h0M591.7 1023.2h0M528.4 939.2h0M585.5 913.1h0M583.0 943.4h0M521.5 937.1h0M559.0 981.1h0M513.3 961.5h0M602.7 1051.8h0M591.0 1015.7h0M519.3 1029.4h0M544.0 1017.4h0M617.1 1015.0h0M535.0 918.4h0M594.1 932.7h0M566.8 927.2h0M577.0 975.3h0M567.5 1008.7h0M583.6 966.0h0M636.0 1020.9h0M545.2 1072.4h0M536.2 1001.9h0M509.8 1037.8h0M528.0 949.2h0M561.2 919.4h0M543.0 960.1h0M544.7 933.2h0M574.7 932.5h0M559.1 1065.0h0M521.3 933.2h0M552.6 968.0h0M573.8 952.0h0M586.1 904.0h0M593.8 1007.7h0M520.1 1021.9h0M576.9 1017.9h0M536.8 914.5h0M567.1 945.3h0M599.1 913.2h0M591.4 954.8h0M600.4 1066.7h0M544.2 944.5h0M617.1 1039.6h0M567.4 1072.8h0M547.6 904.6h0M599.1 905.3h0M569.6 1003.6h0M593.6 942.3h0M545.3 906.1h0M625.8 1031.7h0M552.8 1002.4h0M560.0 967.1h0M602.5 1024.4h0M635.3 1032.2h0M592.8 1001.9h0M567.7 1053.0h0M560.7 1058.0h0"/>
<path stroke="#00ffff" d="M619.3 1031.4h0M791.3 969.3h0M779.2 967.1h0M569.0 1066.1h0M577.3 1065.4h0M559.0 1014.3h0M584.4 1065.7h0M592.0 1039.0h0M541.4 1042.9h0M808.3 988.1h0M798.9 973.0h0M601.7 990.1h0M601.2 1031.3h0M561.4 1012.3h0M624.5 1007.9h0M510.1 1019.7h0M511.4 1022.3h0M793.3 953.7h0M544.6 1027.5h0M595.1 988.8h0M607.7 1023.5h0M520.2 994.5h0M609.8 1059.6h0M553.5 1019.3h0M622.5 1041.9h0M771.2 995.6h0M565.9 1028.3h0M541.7 1008.0h0M609.5 1016.4h0M578.3 1058.7h0M613.9 1022.1h0M594.5 1027.5h0M611.9 989.2h0M528.6 1000.5h0M561.5 1000.3h0M814.5 957.2h0M587.2 983.5h0M802.4 989.2h0M548.0 1065.2h0M778.8 956.2h0M583.4 1043.7h0M771.9 1001.2h0M553.9 989.4h0M602.8 994.0h0M602.9 1036.1h0M603.8 1044.4h0M542.2 1065.5h0M801.7 966.5h0M607.3 1045.9h0M754.9 965.5h0M534.9 1065.9h0M553.0 1035.7h0M617.6 1056.3h0M570.1 1023.6h0M526.8 1043.1h0M786.7 968.7h0M580.7 997.7h0M574.6 1045.4h0M578.4 1050.1h0M576.8 1030.2h0M615.5 1009.8h0M623.2 1070.8h0M552.0 1023.3h0M801.1 959.3h0M807.2 955.9h0M811.0 974.2h0M560.5 983.4h0M775.8 975.9h0M612.8 974.8h0M569.2 1059.4h0M549.7 1030.7h0M584.7 1009.2h0"/>
<path stroke="#00faef" d="M589.6 964.5h0M657.8 991.4h0M689.3 1064.9h0M705.2 1052.3h0M593.8 990.2h0M672.0 1007.3h0M666.1 1009.9h0M674.6 948.5h0M587.7 924.0h0M672.1 942.4h0M609.3 1059.3h0M549.4 946.8h0M675.8 1037.5h0M662.8 940.9h0M576.4 925.0h0M672.1 1051.4h0M692.1 909.7h0M726.7 973.9h0M658.8 1034.9h0M583.4 974.3h0M649.7 960.0h0M641.1 1024.0h0M606.0 936.7h0M545.1 1001.4h0M667.2 1042.4h0M550.9 1008.4h0M622.6 1014.7h0M673.9 993.9h0M728.5 994.4h0M576.8 965.7h0M691.7 918.4h0M619.0 968.8h0M711.5 1044.4h0M784.6 974.7h0M686.9 980.7h0M671.8 961.6h0M585.6 1009.0h0M599.8 1043.4h0M584.5 948.2h0M681.3 980.9h0M589.4 945.0h0M575.4 1022.4h0M634.6 974.4h0M739.6 931.7h0M770.4 968.6h0M664.2 1016.4h0M631.7 1072.6h0M704.0 989.6h0M712.6 974.5h0M699.1 944.6h0M642.0 981.5h0M623.2 1050.2h0M572.3 919.0h0M640.9 946.3h0M675.8 1030.3h0M665.0 1035.3h0M731.3 986.7h0M553.7 996.2h0M672.4 884.0h0M609.6 974.4h0M710.1 968.6h0M691.5 968.9h0M578.7 896.7h0M655.4 1014.8h0M695.2 976.0h0M633.0 1031.0h0M548.7 1043.2h0M537.2 969.4h0M621.9 970.0h0M602.2 1059.4h0M618.5 975.5h0M649.1 974.7h0M697.7 959.7h0M609.1 896.8h0M689.8 925.6h0M659.4 969.7h0M640.7 954.7h0M764.1 972.4h0M683.6 1002.2h0M729.8 1028.4h0M631.3 1064.1h0M658.3 911.4h0M665.8 1024.4h0M714.0 993.8h0M578.2 945.4h0M712.3 924.2h0M563.3 1031.8h0M656.1 917.7h0M736.0 1001.3h0M729.5 1041.7h0M627.6 996.3h0M600.5 939.1h0M704.1 1009.2h0M528.3 973.3h0M600.0 1001.2h0M601.3 965.2h0M616.5 987.1h0M781.4 981.8h0M650.8 931.9h0M576.9 988.4h0M606.0 930.1h0M606.5 953.8h0M720.7 1001.3h0M601.1 980.1h0M633.0 939.9h0M630.7 912.5h0M593.9 1010.7h0M600.9 1007.6h0M605.7 989.6h0M760.2 973.8h0M632.7 931.9h0M647.6 954.5h0M713.0 1015.9h0M650.5 947.0h0M689.1 1053.2h0M617.7 940.4h0M674.5 1022.3h0M727.0 1002.6h0M688.5 947.0h0M625.4 980.6h0M701.8 1024.3h0M683.1 954.6h0M544.1 938.8h0M723.1 934.3h0M793.9 989.4h0M754.3 1013.5h0M665.2 1059.3h0M565.3 1002.2h0M704.6 1043.2h0M585.6 988.8h0M642.3 919.3h0M616.6 994.6h0"/>
<path stroke="#00fadf" d="M689.1 958.7h0M627.2 959.4h0M631.5 967.5h0M657.4 945.4h0M723.0 959.5h0M625.3 1002.1h0M570.7 1045.5h0M584.1 1029.4h0M622.5 944.0h0M683.4 1031.0h0M736.9 951.5h0M738.0 972.6h0M561.2 965.1h0M680.6 1020.5h0M666.0 959.9h0M593.9 993.8h0M600.8 1021.3h0M699.5 1008.5h0M664.1 953.6h0M681.0 911.9h0M644.7 1021.2h0M594.7 1043.9h0M610.1 1030.2h0M673.6 974.1h0M635.2 981.0h0M577.0 941.0h0M679.8 1041.4h0M690.8 938.6h0M614.5 944.3h0M703.9 1002.7h0M712.1 961.7h0M543.9 974.2h0M739.8 1009.1h0M649.3 995.4h0M735.3 969.1h0M696.2 1016.5h0M720.6 1008.3h0M648.3 918.5h0M633.9 1002.7h0M601.1 997.3h0M654.9 959.1h0M696.0 931.9h0M706.9 947.2h0M654.7 954.8h0M630.7 1020.5h0M543.0 984.0h0M687.8 952.7h0M641.5 960.2h0M610.0 917.2h0M575.4 961.0h0M640.0 932.0h0M615.5 1051.9h0M690.2 1036.5h0M608.9 968.3h0M642.0 967.8h0M681.9 917.6h0M631.8 988.1h0M608.6 987.3h0M608.9 912.1h0M618.8 1017.1h0M567.8 946.6h0M703.2 959.1h0M593.9 919.6h0M622.9 1058.2h0M723.1 947.7h0M638.5 1034.7h0M560.5 997.9h0M583.8 1051.8h0M625.8 913.2h0M586.6 1001.8h0M661.3 931.8h0M665.4 946.8h0M592.2 1021.9h0M577.8 1005.1h0M640.1 906.1h0M646.2 981.9h0M632.8 1034.8h0M698.1 1002.2h0M600.5 910.9h0M624.6 1019.6h0M553.0 931.8h0M591.3 974.6h0M730.8 1015.7h0M665.0 918.9h0M633.6 1010.4h0M672.7 988.0h0M617.4 1037.3h0M625.6 976.9h0M641.1 993.9h0M609.5 1011.8h0M670.6 954.8h0M577.6 973.8h0M600.1 1016.4h0M674.4 1017.1h0M575.8 1008.2h0M635.7 928.3h0M640.3 1059.6h0M638.3 1010.4h0M608.5 1051.4h0M591.6 962.2h0M566.6 1015.6h0M594.8 952.2h0M653.8 940.6h0M697.9 994.5h0M557.4 971.7h0M632.9 995.9h0M607.4 1002.4h0M619.5 1022.2h0M623.3 922.9h0M570.7 980.3h0M682.0 1066.2h0M627.7 933.4h0M618.9 906.1h0M674.7 966.9h0M634.0 945.9h0M680.7 931.2h0M662.4 933.4h0M585.5 981.9h0M607.7 1025.7h0M569.9 993.8h0M647.7 1031.3h0M601.2 948.3h0M639.4 975.4h0M632.2 1016.2h0M712.9 1037.3h0M662.9 1031.9h0M682.2 1015.1h0M640.5 1042.0h0M578.1 995.1h0M695.6 980.3h0M631.3 960.3h0M690.9 1022.9h0M650.7 1017.4h0M712.7 1008.3h0M621.0 1045.1h0M618.1 953.0h0"/>
<path stroke="#00facf" d="M758.7 960.2h0M722.1 966.4h0M568.8 974.7h0M582.9 969.6h0M665.6 1065.1h0M558.8 1023.2h0M680.1 966.6h0M565.1 1009.4h0M708.5 1037.7h0M657.3 975.9h0M758.7 1015.0h0M734.8 979.4h0M619.6 957.9h0M608.6 925.5h0M608.2 980.3h0M552.3 1037.0h0M752.4 997.6h0M665.2 976.1h0M713.6 940.4h0M667.4 925.1h0M690.3 1009.8h0M713.9 981.5h0M666.5 968.1h0M709.5 975.2h0M728.1 919.0h0M730.5 961.1h0M690.0 1015.2h0M582.8 995.9h0M685.6 974.8h0M704.8 906.7h0M723.7 1024.0h0M683.9 946.3h0M656.7 980.4h0M691.3 896.9h0M641.2 940.0h0M585.8 1035.5h0M610.3 1064.2h0M680.1 989.4h0M672.2 905.7h0M697.0 1038.0h0M625.0 953.7h0M576.6 1016.3h0M732.6 980.8h0M656.9 925.4h0M682.3 1010.2h0M534.9 1009.2h0M601.0 916.3h0M632.1 953.0h0M652.0 986.4h0M713.6 1002.4h0M544.9 959.2h0M640.8 1000.1h0M616.8 933.2h0M594.1 1002.9h0M721.2 977.9h0M600.0 1050.1h0M671.5 1003.9h0M737.4 1022.6h0M561.1 1001.1h0M704.0 993.7h0M687.3 988.2h0M667.6 981.1h0M632.8 1043.9h0M621.6 991.0h0M670.2 926.2h0M703.3 1029.5h0M541.6 933.0h0M550.0 950.7h0M648.7 969.2h0M645.3 938.8h0M673.3 981.7h0M720.9 919.6h0M615.6 1002.7h0M671.1 932.9h0M655.7 1024.2h0M656.6 1003.5h0M704.0 951.9h0M700.3 912.6h0M582.0 1066.9h0M695.2 952.2h0M683.6 959.3h0M648.0 1003.1h0M647.7 1044.8h0M649.1 926.8h0M583.2 1018.1h0M644.3 988.9h0M599.6 950.2h0M610.3 961.6h0M656.9 1030.5h0M584.3 912.7h0M574.6 1056.5h0M650.0 1049.8h0M592.0 925.9h0M700.0 990.1h0M665.2 911.9h0M598.9 975.0h0M707.1 970.8h0M627.3 1030.8h0M615.2 1030.2h0M728.6 950.7h0M617.1 1007.9h0M681.0 938.3h0M656.8 1008.9h0M642.8 1030.3h0M615.5 981.8h0M698.3 966.1h0M688.9 976.7h0M656.2 1056.0h0M548.7 969.3h0M665.1 1002.7h0M720.0 955.0h0M688.2 1029.6h0M651.5 1009.1h0M623.3 1036.5h0M707.9 925.9h0M566.0 965.6h0M553.8 983.3h0M721.7 992.3h0M648.4 1035.7h0M657.3 1045.8h0M599.4 960.0h0M687.1 933.2h0M687.6 1002.2h0M722.5 972.6h0M704.5 981.4h0M641.1 1050.5h0M713.4 955.2h0M685.1 1050.9h0M640.9 1015.7h0M594.6 1015.4h0M747.9 960.6h0M698.7 939.1h0M626.8 1007.3h0M609.2 1015.8h0M573.6 981.4h0M566.9 1036.4h0"/>
<path stroke="#00fabf" d="M559.0 1131.5h0M534.8 1101.5h0M523.0 1160.2h0M560.8 1168.3h0M618.4 1149.3h0M582.6 1134.2h0M626.2 1168.8h0M591.3 1157.0h0M608.5 1133.0h0M658.6 1084.5h0M560.9 1140.1h0M496.0 989.3h0M559.2 1076.3h0M521.6 1134.0h0M555.2 1116.4h0M626.0 1132.3h0M681.6 1137.7h0M512.0 1120.5h0M528.8 1135.7h0M625.8 1120.2h0M483.2 1060.0h0M552.3 1143.4h0M657.5 1092.6h0M586.1 1141.9h0M599.9 1086.2h0M664.1 1091.1h0M544.3 1134.9h0M583.7 1064.1h0M686.7 1140.2h0M616.8 1142.0h0M574.6 1161.2h0M674.5 1141.7h0M506.3 1123.3h0M601.6 1155.2h0M660.1 1141.3h0M500.6 1024.1h0M447.3 1079.7h0M584.3 1106.1h0M527.9 1100.9h0M551.7 1118.5h0M608.1 1083.8h0M458.8 1004.4h0M570.5 1143.7h0M632.3 1128.8h0M639.7 1121.4h0M532.8 1127.1h0M541.9 1070.3h0M593.5 1126.5h0M657.4 1112.9h0M591.8 1112.4h0M527.2 1121.3h0M542.2 1141.3h0M574.5 1113.9h0M613.4 1150.4h0M550.3 1086.2h0M628.3 1092.7h0"/>
<path stroke="#00faaf" d="M617.2 1120.0h0M448.7 1134.9h0M671.0 1224.7h0M606.7 1078.0h0M575.4 1119.9h0M598.5 1099.1h0M568.8 1077.4h0M593.8 1063.3h0M529.5 1093.2h0M521.5 1279.2h0M475.1 1256.0h0M438.3 1125.9h0M551.7 1106.4h0M536.1 1147.7h0M470.6 1147.1h0M622.2 1129.1h0M545.8 1166.7h0M446.5 1208.6h0M641.8 1107.1h0M551.7 1098.6h0M659.7 1098.2h0M479.9 1153.8h0M431.5 1156.0h0M536.8 1105.5h0M511.9 1167.4h0M586.4 1169.5h0M593.4 1216.6h0M513.3 1181.8h0M602.0 1172.8h0M602.8 1128.5h0M468.1 1196.8h0M433.5 1164.3h0M480.2 1147.8h0M574.5 1135.1h0M651.9 1083.3h0M608.2 1163.8h0M609.6 1272.2h0M434.4 1211.1h0M657.1 1229.3h0M430.1 1188.5h0M520.5 1097.3h0M574.4 1143.8h0M649.0 1125.6h0M599.0 1146.7h0M549.8 1131.2h0M648.7 1162.7h0M455.1 1131.8h0M429.0 1181.1h0M634.1 1119.1h0M521.0 1145.6h0M602.3 1076.7h0M565.8 1118.8h0M438.4 1121.3h0M585.8 1078.9h0M428.7 1120.8h0M641.0 1168.2h0M544.4 1100.7h0M665.0 1133.9h0M564.0 1104.1h0M428.6 1134.9h0M461.1 1156.8h0M631.0 1099.6h0M484.4 1205.0h0M528.4 1210.8h0M646.9 1169.9h0M576.4 1079.4h0M619.3 1109.3h0M607.0 1112.7h0M504.5 1131.4h0M622.3 1159.5h0M602.6 1251.3h0M568.3 1098.5h0M465.8 1143.5h0M535.1 1084.0h0M486.7 1170.2h0M633.1 1148.7h0M586.2 1163.6h0M446.4 1163.0h0M447.4 1176.6h0M537.7 1227.0h0M549.6 1161.7h0M489.9 1181.4h0M631.6 1267.6h0M429.3 1223.7h0M642.6 1133.4h0M579.4 1220.0h0M529.1 1155.2h0M665.8 1120.4h0M552.5 1152.2h0M633.7 1107.0h0M524.9 1169.0h0M506.4 1261.8h0M479.9 1098.0h0M550.3 1079.7h0"/>
<path stroke="#00fa9f" d="M544.3 1107.2h0M575.9 1099.6h0M577.6 1107.4h0M634.8 1132.3h0M445.3 1162.2h0M528.9 1128.2h0M509.7 1128.6h0M440.7 1099.1h0M439.6 1174.9h0M622.7 1106.5h0M604.3 1139.3h0M584.4 1124.6h0M495.0 1098.5h0M608.2 1120.1h0M593.0 1105.5h0M591.0 1077.9h0M563.0 1083.7h0M640.5 1085.3h0M625.7 1083.2h0M567.3 1088.0h0M527.8 1107.4h0M592.1 1089.6h0M543.2 1148.1h0M591.3 1122.7h0M602.6 1065.7h0M651.7 1106.5h0M641.1 1128.3h0M585.6 1148.0h0M527.6 1087.4h0M438.6 1162.7h0M643.2 1091.7h0M516.3 1140.4h0M600.5 1121.3h0M607.2 1105.1h0M586.2 1085.8h0M448.2 1121.7h0M609.2 1091.2h0M609.6 1169.2h0M431.5 1196.4h0M536.8 1116.4h0M648.5 1148.6h0M630.4 1115.1h0M446.3 1168.6h0M467.5 1120.0h0M438.4 1203.9h0M559.0 1129.8h0M623.5 1155.4h0M448.1 1180.5h0M532.7 1117.0h0M510.6 1164.1h0M577.4 1085.6h0M512.7 1108.0h0M618.3 1136.9h0M647.1 1140.1h0M521.9 1108.2h0M654.9 1161.1h0M561.5 1098.3h0M591.1 1141.2h0M563.5 1121.6h0M494.3 1128.8h0M522.7 1112.2h0M463.3 1178.5h0M611.2 1101.3h0M536.2 1135.2h0M649.8 1112.6h0M576.2 1149.8h0M561.9 1111.8h0M566.6 1125.7h0M486.6 1141.7h0M492.3 1132.6h0M656.2 1153.7h0M473.0 1167.5h0M610.3 1129.8h0"/>
<path stroke="#00fa8f" d="M674.7 1133.4h0M638.5 1131.5h0M649.1 1153.4h0M624.6 1160.6h0M693.9 1172.3h0M639.3 1175.7h0M634.1 1190.2h0M624.9 1154.6h0M681.3 1151.0h0M688.9 1155.2h0M683.9 1170.2h0M682.1 1187.2h0M664.2 1177.0h0M674.9 1126.6h0M629.1 1153.5h0M650.3 1140.8h0M668.4 1156.4h0M665.8 1141.4h0M610.8 1154.4h0M615.7 1176.7h0M621.8 1121.5h0M651.1 1188.3h0M642.6 1182.2h0M666.2 1169.8h0M651.0 1130.1h0M631.2 1133.4h0M686.0 1149.7h0M618.9 1159.9h0M608.7 1140.7h0M647.0 1131.6h0M623.9 1180.1h0M646.1 1149.5h0M645.6 1162.2h0M635.2 1170.8h0M663.1 1148.3h0M616.1 1184.7h0M689.9 1140.6h0M616.9 1135.6h0M664.3 1160.4h0M642.2 1120.4h0M632.5 1174.3h0M607.8 1134.2h0M624.8 1141.5h0M633.7 1163.4h0M607.4 1175.0h0M635.2 1142.1h0M639.7 1128.3h0M657.0 1162.8h0M657.5 1146.1h0M656.6 1131.2h0M626.0 1175.1h0M658.0 1134.5h0M641.3 1147.4h0M616.0 1127.4h0M675.4 1154.5h0M621.7 1156.4h0M642.1 1163.8h0M614.9 1146.8h0M691.5 1136.2h0M642.3 1155.7h0M616.7 1170.2h0M644.3 1138.5h0M639.9 1170.5h0M616.2 1141.0h0M656.7 1182.6h0M602.7 1152.5h0"/>
<path stroke="#00fa80" d="M698.7 1176.3h0M746.6 1238.1h0M728.4 1246.3h0M777.3 1229.4h0M697.2 1140.6h0M705.9 1133.6h0M770.7 1112.8h0M728.7 1163.2h0M717.4 1244.7h0M818.0 1174.7h0M719.0 1140.1h0M721.7 1282.9h0M740.7 1272.1h0M779.4 1178.8h0M776.9 1113.2h0M739.3 1244.3h0M741.2 1238.7h0M777.0 1216.4h0M714.9 1225.5h0M730.0 1142.1h0M819.5 1217.4h0M763.6 1162.7h0M761.5 1231.5h0M778.9 1188.0h0M765.2 1211.8h0M729.7 1156.1h0M752.8 1141.4h0M723.5 1135.3h0M755.8 1176.6h0M712.4 1197.5h0M695.6 1161.3h0M818.3 1168.6h0M747.7 1224.4h0M745.0 1092.4h0M756.8 1134.6h0M770.6 1154.5h0M739.1 1209.7h0M785.3 1187.3h0M703.7 1191.7h0M787.5 1238.8h0M786.9 1161.1h0M772.1 1246.8h0M762.6 1181.5h0M735.9 1153.9h0M778.5 1206.0h0M809.5 1216.6h0M764.4 1107.2h0M698.2 1134.5h0M715.9 1155.2h0M774.8 1099.7h0M755.1 1154.9h0M721.2 1198.8h0M729.6 1171.9h0M752.8 1203.8h0M715.7 1144.7h0M793.8 1185.3h0M785.2 1153.5h0M779.4 1207.3h0M754.3 1168.5h0M755.4 1117.7h0M794.5 1150.0h0M704.7 1196.6h0M787.4 1134.7h0M723.1 1294.4h0M794.7 1175.1h0M719.9 1180.8h0M746.0 1174.6h0M734.3 1280.0h0M767.7 1161.8h0M737.1 1150.0h0M753.1 1211.1h0M803.0 1162.7h0M698.2 1119.1h0M714.1 1207.9h0M728.1 1258.9h0M803.0 1195.4h0M779.2 1155.4h0M745.8 1142.5h0M796.0 1219.0h0"/>
<path stroke="#00fa70" d="M736.9 1196.7h0M932.5 1202.5h0M878.6 1196.7h0M857.2 1212.3h0M891.7 1220.0h0M753.7 1161.6h0M751.0 1230.0h0M781.7 1168.2h0M746.3 1268.2h0M721.8 1244.7h0M743.7 1211.7h0M788.4 1176.1h0M760.5 1191.4h0M897.6 1210.2h0M753.5 1195.8h0M926.9 1209.1h0M703.2 1155.0h0M912.3 1229.5h0M717.3 1174.1h0M689.9 1252.8h0M794.8 1162.0h0M866.1 1187.6h0M915.5 1180.4h0M860.3 1236.5h0M713.6 1258.9h0M772.0 1211.8h0M876.5 1189.6h0M738.1 1217.2h0M857.0 1188.2h0M771.6 1119.9h0M728.2 1226.1h0M737.6 1252.0h0M901.1 1160.6h0M877.2 1178.9h0M817.2 1161.9h0M722.5 1159.3h0M882.4 1270.2h0M887.9 1210.8h0M868.0 1210.6h0M867.4 1225.6h0M890.1 1190.9h0M745.8 1169.1h0M853.4 1168.2h0M752.7 1227.5h0M771.1 1171.5h0M698.0 1182.4h0M859.9 1215.6h0M785.1 1141.8h0M840.6 1209.9h0M745.0 1121.2h0M1037.2 1103.4h0M865.0 1285.3h0M704.9 1161.0h0M950.4 1209.9h0M769.7 1204.5h0M770.1 1223.9h0M817.4 1238.9h0M787.7 1225.8h0M828.2 1182.4h0M731.9 1213.2h0M980.9 1126.7h0M869.6 1231.4h0M701.5 1111.7h0M859.7 1206.5h0M841.8 1223.5h0M842.2 1218.8h0M859.4 1170.6h0M962.3 1138.3h0M737.5 1260.4h0M884.3 1225.4h0M721.7 1208.1h0M730.9 1146.4h0M884.8 1163.7h0M860.1 1177.3h0M743.8 1182.3h0M760.2 1140.9h0M753.4 1237.1h0M773.4 1260.9h0M762.0 1119.1h0M851.6 1197.7h0M818.0 1210.8h0M779.1 1148.3h0M1045.6 1116.7h0M767.6 1150.0h0M785.5 1204.6h0M867.1 1198.2h0M900.2 1189.8h0M780.0 1222.8h0M778.0 1296.8h0M1038.0 1115.2h0M714.2 1200.5h0M884.4 1208.8h0M713.3 1176.7h0M1022.6 1117.4h0M747.0 1197.3h0M857.9 1196.4h0M850.9 1184.2h0M720.5 1192.2h0M754.0 1181.4h0M776.9 1182.1h0M975.1 1129.9h0M722.0 1257.6h0M699.0 1209.5h0M884.2 1215.8h0M810.9 1178.2h0M882.5 1166.1h0M802.6 1217.9h0M923.2 1220.1h0M882.2 1203.1h0M894.0 1196.8h0M878.8 1191.9h0M730.4 1119.0h0M907.6 1241.0h0M917.4 1187.4h0M759.4 1093.0h0M737.5 1173.1h0M779.0 1162.6h0M816.8 1189.6h0M868.8 1172.2h0M754.0 1190.5h0M740.0 1120.5h0M729.7 1198.1h0M760.1 1223.7h0M834.8 1196.1h0M774.3 1247.2h0M866.2 1183.3h0M914.3 1210.5h0M764.0 1157.5h0M757.1 1299.2h0M731.3 1127.9h0M705.9 1212.2h0M788.5 1252.2h0M720.0 1289.9h0M881.5 1174.3h0M869.2 1177.6h0M890.6 1224.9h0M736.8 1291.3h0M838.3 1285.3h0M743.5 1229.9h0M900.2 1196.3h0M901.7 1183.2h0M758.8 1127.7h0M704.0 1168.4h0M1044.7 1105.5h0M745.7 1297.0h0M875.9 1203.3h0M843.6 1175.6h0M740.8 1168.7h0M968.2 1136.8h0M732.6 1201.8h0M901.4 1217.9h0M929.9 1181.2h0M690.1 1177.6h0M859.2 1222.0h0M1001.8 1122.1h0M876.1 1182.6h0M794.5 1202.9h0M785.5 1181.7h0M785.2 1128.5h0M782.6 1301.5h0M689.9 1196.2h0M906.5 1226.1h0M884.8 1183.2h0M779.4 1258.3h0M833.7 1296.8h0M915.3 1203.4h0M692.0 1217.5h0M793.1 1243.5h0M786.6 1169.5h0M913.6 1238.4h0M736.7 1269.1h0M738.4 1206.6h0M732.0 1217.2h0M878.0 1228.9h0M797.8 1169.8h0M922.3 1193.0h0M787.5 1144.6h0M967.0 1133.7h0M905.6 1210.1h0M765.5 1204.5h0M768.5 1183.2h0M913.8 1195.4h0M874.6 1168.6h0M712.6 1147.8h0M772.1 1105.9h0M1045.8 1103.5h0M737.8 1183.8h0M732.8 1236.6h0M747.8 1163.8h0M722.3 1278.3h0M756.2 1147.6h0M762.5 1098.2h0M1037.1 1120.6h0M769.9 1197.6h0M699.3 1238.5h0M838.9 1202.5h0M785.0 1194.8h0M891.7 1180.6h0M708.6 1229.0h0M764.2 1194.3h0M737.8 1163.1h0M1028.8 1127.6h0M866.6 1216.4h0M963.5 1139.1h0M749.6 1243.4h0M907.8 1202.8h0M851.3 1203.7h0"/>
<path stroke="#5aff4b" d="M932.6 1121.4h0M982.1 1083.3h0M868.1 1130.6h0M949.9 1155.3h0M874.8 1141.7h0M843.3 1121.1h0M973.0 1096.4h0M859.8 1159.0h0M777.5 1142.0h0M835.4 1160.9h0M797.0 1134.1h0M776.8 1100.9h0M936.9 1157.7h0M905.5 1095.1h0M833.8 1121.2h0M941.1 1126.5h0M972.8 1160.0h0M803.2 1157.0h0M875.9 1134.0h0M849.0 1127.0h0M834.9 1153.4h0M978.5 1126.2h0M843.0 1140.0h0M1011.9 1114.5h0M1037.3 1106.2h0M897.9 1130.0h0M899.4 1139.9h0M931.8 1132.5h0M868.2 1131.4h0M848.6 1155.4h0M860.3 1093.9h0M869.4 1146.3h0M884.2 1135.8h0M999.0 1080.5h0M1010.4 1091.4h0M1003.9 1099.3h0M923.3 1143.8h0M887.1 1143.5h0M1029.9 1100.0h0M1025.6 1124.6h0M832.8 1146.7h0M906.7 1149.2h0M867.7 1118.1h0M885.3 1153.2h0M900.3 1111.0h0M914.7 1142.5h0M843.3 1135.9h0M819.9 1154.6h0M787.8 1135.0h0M792.3 1140.1h0M854.6 1136.8h0M881.3 1147.5h0M809.6 1118.2h0M1005.8 1119.1h0M909.0 1126.7h0M910.5 1161.4h0M1004.9 1086.9h0M969.6 1127.9h0M981.9 1104.8h0M939.0 1140.3h0M871.7 1163.2h0M1027.7 1121.5h0M893.9 1132.6h0M828.4 1120.2h0M810.5 1092.8h0M850.8 1118.7h0M914.2 1126.4h0M868.8 1155.2h0M858.7 1155.1h0M869.7 1143.1h0M891.9 1149.8h0M875.1 1111.5h0M868.1 1163.7h0M890.4 1118.0h0M981.2 1120.7h0M951.1 1130.4h0M964.1 1128.0h0M845.3 1154.0h0M835.8 1135.9h0M847.2 1149.9h0M799.8 1119.1h0M891.6 1113.0h0M924.5 1125.9h0M841.1 1115.8h0M826.0 1141.8h0M802.4 1131.7h0M812.9 1146.9h0M900.8 1129.2h0M858.3 1133.7h0M878.9 1126.9h0M890.3 1154.1h0M946.8 1142.7h0M837.5 1143.7h0M949.0 1102.4h0M891.1 1140.4h0M860.1 1126.0h0M848.0 1113.2h0M839.8 1130.7h0M996.1 1105.4h0"/>
<path stroke="#7dff32" d="M744.2 1064.6h0M1005.1 1087.6h0M748.1 1071.5h0M949.8 1099.3h0M933.0 1093.5h0M979.6 1102.0h0M1013.7 1091.4h0M1005.9 1130.7h0M1020.6 1104.5h0M971.6 1112.2h0M730.2 1074.3h0M713.2 1071.0h0M965.5 1085.0h0M977.8 1094.2h0M1005.3 1114.6h0M889.9 1091.4h0M970.8 1072.4h0M1022.1 1092.9h0M950.2 1063.3h0M938.2 1106.2h0M1001.7 1090.8h0M987.7 1097.1h0M1011.8 1099.1h0M682.3 1065.1h0M738.8 1078.4h0M737.3 1068.1h0M946.9 1090.9h0M1004.3 1104.9h0M762.1 1077.7h0M975.0 1093.0h0M751.2 1071.1h0M739.8 1091.0h0M949.2 1078.7h0M926.0 1068.5h0M763.3 1083.3h0M1018.4 1087.1h0M757.6 1065.2h0M930.5 1067.1h0M963.2 1114.0h0M993.5 1076.0h0M713.0 1087.0h0M1022.0 1114.9h0M922.5 1085.5h0M722.3 1057.4h0M987.9 1085.3h0M753.2 1079.9h0M956.3 1114.4h0M995.9 1129.2h0M697.8 1063.6h0M991.0 1079.6h0M1019.5 1093.7h0M745.8 1092.4h0M956.7 1091.2h0M720.6 1085.7h0M698.8 1094.0h0M990.0 1122.7h0M722.0 1066.7h0M930.8 1078.3h0M761.5 1070.2h0M972.6 1094.0h0M987.7 1089.4h0M1019.6 1087.0h0M932.8 1084.3h0M971.0 1105.6h0M688.7 1084.0h0M940.2 1078.1h0M993.2 1086.4h0M949.6 1084.5h0M987.3 1109.0h0M897.9 1083.7h0M965.9 1071.4h0M687.0 1064.9h0M923.5 1077.7h0M971.0 1078.1h0M962.7 1106.5h0M962.8 1087.9h0M941.9 1092.5h0M758.8 1091.5h0M748.5 1079.5h0M963.7 1118.7h0M995.1 1121.6h0M955.5 1094.8h0M713.9 1065.8h0M995.0 1091.1h0M961.3 1065.9h0M726.4 1086.9h0M770.5 1078.8h0M981.1 1070.1h0M703.9 1062.3h0M1019.5 1101.8h0M910.0 1087.6h0M924.2 1091.5h0M988.4 1099.4h0M913.8 1084.6h0M938.3 1071.4h0M973.6 1133.1h0M769.0 1073.0h0M762.3 1066.3h0M1017.0 1106.1h0M714.4 1091.9h0M1017.8 1120.0h0M1019.9 1126.5h0M913.0 1072.0h0M713.5 1078.7h0M704.0 1073.8h0M915.0 1077.9h0"/>
<path stroke="#a0fc14" d="M973.0 1065.8h0M825.9 1059.4h0M907.6 1064.1h0M837.9 1048.2h0M898.5 1043.6h0M854.6 988.4h0M858.8 1062.5h0M874.5 1045.6h0M960.7 1064.4h0M711.9 1059.4h0M932.6 1031.5h0M759.9 1011.9h0M994.5 1025.2h0M889.0 1022.5h0M810.5 1020.9h0M833.3 1034.5h0M811.9 1050.9h0M720.1 1023.0h0M848.6 1056.1h0M981.0 1080.6h0M1005.0 1057.0h0M804.0 1058.2h0M802.9 979.9h0M729.2 1064.3h0M930.2 1071.6h0M953.6 1094.8h0M957.4 1071.0h0M1005.2 998.4h0M954.0 1047.5h0M837.0 1034.8h0M868.0 1015.2h0M849.4 1012.1h0M965.6 1086.8h0M857.2 1017.0h0M744.7 1025.5h0M1026.7 1049.7h0M738.5 1036.2h0M835.3 1057.9h0M940.7 1046.2h0M855.4 1062.9h0M754.1 1064.7h0M812.2 1065.3h0M783.3 1049.3h0M925.5 1072.0h0M929.1 1107.6h0M899.2 1059.0h0M842.9 1028.9h0M933.1 1077.1h0M999.6 1009.2h0M835.8 986.2h0M753.1 1023.4h0M953.7 1009.6h0M859.4 1034.7h0M746.2 1030.9h0M867.1 1008.4h0M998.7 1058.3h0M769.9 1079.6h0M977.8 1063.6h0M884.6 1071.2h0M845.0 1079.1h0M857.2 1046.5h0M795.5 1037.7h0M875.0 1093.6h0M706.7 1061.3h0M974.9 1023.0h0M750.0 1058.1h0M838.9 1015.7h0M979.7 1068.5h0M852.0 965.1h0M947.1 1051.9h0M905.9 1043.4h0M788.0 1033.9h0M908.6 1029.5h0M1005.7 1050.1h0M769.5 1044.6h0M733.3 1003.4h0M842.9 1023.5h0M1038.0 1012.1h0M864.5 994.0h0M970.4 1044.7h0M849.0 1056.2h0M706.8 1028.6h0M892.2 1079.5h0M927.4 1065.8h0M725.8 1038.0h0M878.1 993.1h0M980.8 1009.8h0M985.8 1029.3h0M997.2 1086.3h0M881.7 1060.3h0M933.8 1024.0h0M890.2 1031.4h0M868.0 998.5h0M931.3 1036.5h0M842.4 1033.0h0M777.6 1024.1h0M1037.3 1049.5h0M742.4 1009.0h0M730.7 1071.6h0M715.5 1023.4h0M771.3 1025.2h0M736.6 1004.8h0M826.0 987.6h0M924.0 1049.7h0M1012.4 1024.0h0M939.8 1099.9h0M876.3 1065.3h0M715.8 1009.6h0M786.9 1073.2h0M892.7 1091.4h0M980.4 1050.2h0M964.8 1050.2h0M696.3 994.2h0M803.1 958.9h0M721.2 1010.4h0M835.2 1000.7h0M776.8 1069.9h0M778.9 996.1h0M818.2 1003.6h0M988.2 1021.1h0M738.7 1071.1h0"/>
<path stroke="#b9ff00" d="M867.0 1037.0h0M762.2 1061.8h0M780.3 1031.0h0M856.7 1047.2h0M948.9 1001.2h0M714.0 1016.7h0M940.9 976.0h0M971.8 1078.9h0M736.8 959.7h0M754.4 1004.4h0M948.5 1077.5h0M980.1 989.5h0M871.3 942.3h0M859.9 1032.3h0M943.3 1038.2h0M962.4 1077.6h0M926.7 1080.4h0M787.1 1082.1h0M1012.7 1073.4h0M971.1 1055.0h0M820.0 1024.7h0M855.7 1001.3h0M745.9 1083.8h0M973.0 1038.0h0M719.8 1063.6h0M747.3 1042.8h0M987.9 1001.0h0M811.7 1070.3h0M986.4 1063.7h0M818.0 976.0h0M898.4 996.2h0M1012.7 1043.1h0M885.0 1015.2h0M908.0 1055.9h0M848.8 1049.9h0M778.6 974.3h0M900.2 1036.2h0M961.6 1002.1h0M882.5 1027.9h0M1021.4 1085.0h0M869.1 1057.2h0M781.4 1010.1h0M697.0 1048.0h0M947.9 1085.7h0M845.5 1085.2h0M1038.8 1044.1h0M787.0 974.8h0M988.7 1037.7h0M835.2 1079.7h0M834.2 962.1h0M771.5 989.7h0M973.0 1030.7h0M818.0 993.8h0M955.4 1086.3h0M1003.3 1021.6h0M908.6 1016.9h0M803.6 1051.6h0M720.1 967.1h0M980.8 1014.7h0M802.0 1030.1h0M923.8 1008.6h0M882.9 1049.0h0M997.1 1031.3h0M719.4 980.3h0M867.1 1071.9h0M761.5 993.4h0M996.3 1038.5h0M951.1 1061.7h0M843.7 1015.2h0M1031.8 1059.4h0M971.6 993.0h0M731.5 1052.0h0M978.0 1093.8h0M963.7 1056.8h0M761.7 1056.6h0M884.0 1016.1h0M1020.4 1003.6h0M712.6 994.0h0M800.8 990.3h0M893.3 1039.1h0M739.4 1010.5h0M965.1 1015.3h0M873.6 1051.1h0M845.5 1042.2h0M753.3 1013.2h0M932.9 1041.6h0M1028.1 1046.1h0M858.6 987.8h0M893.4 949.3h0M865.2 1023.9h0M773.1 1015.0h0M947.4 1109.2h0M890.7 1087.5h0M793.6 974.5h0M929.3 960.9h0M753.1 1055.8h0M981.5 1057.2h0M793.3 1014.0h0M924.3 1045.2h0M753.5 1084.6h0M948.2 1072.8h0M804.1 1076.2h0M743.4 995.1h0M917.7 948.1h0M1002.8 1007.7h0M900.4 997.9h0M782.4 1015.7h0M941.3 1031.4h0M881.8 1086.7h0M892.3 1014.8h0M771.1 1057.9h0M817.6 1087.5h0M914.2 1038.7h0M835.2 1019.8h0M737.8 1057.8h0M752.3 1044.4h0M762.3 966.7h0M780.9 962.1h0M737.2 994.2h0M926.0 1021.6h0M867.4 1056.8h0M712.1 1029.1h0M828.6 994.8h0M860.3 1057.5h0M907.3 1036.9h0M861.9 1008.8h0M727.9 986.3h0M923.6 1031.7h0M808.8 1057.6h0M883.3 1038.5h0M780.7 1040.2h0M778.0 1052.6h0M804.0 1065.1h0M809.7 1002.7h0M1051.0 1057.5h0"/>
<path stroke="#d7ff00" d="M933.1 1010.1h0M984.2 1021.8h0M959.2 986.2h0M848.8 1029.9h0M874.7 1039.4h0M924.1 1009.7h0M916.5 1066.6h0M956.7 993.8h0M940.6 996.2h0M940.9 1001.7h0M1019.6 1090.8h0M987.4 1010.9h0M860.8 1073.3h0M1001.8 1082.6h0M980.8 1016.7h0M928.6 1036.8h0M956.0 1015.2h0M940.7 1024.6h0M949.0 1029.3h0M919.1 1008.6h0M891.6 1073.4h0M970.2 1029.4h0M965.3 1023.3h0M906.7 996.0h0M979.9 1045.5h0M940.6 1051.9h0M932.8 1047.9h0M886.3 1022.3h0M937.9 1038.1h0M1021.7 1035.5h0M948.9 1046.3h0M916.1 1024.0h0M892.7 1044.8h0M949.5 1041.3h0M1003.7 1080.3h0M907.2 1022.7h0M827.2 1031.3h0M955.4 1038.9h0M878.0 1032.1h0M938.7 1009.2h0M965.5 1051.7h0M963.8 1031.7h0M925.1 1051.4h0M898.9 1015.6h0M941.2 1042.9h0M914.6 1030.3h0M979.4 1002.6h0M913.0 1021.0h0M911.5 1080.9h0M922.9 1029.3h0M940.9 1031.1h0M985.8 1009.7h0M917.3 1016.2h0M1026.1 1073.4h0M966.2 1056.4h0M930.2 1022.5h0M971.7 1008.8h0M977.8 1029.0h0M932.8 989.5h0M954.8 1022.6h0M1013.3 1060.5h0M959.1 1029.5h0M963.8 1030.3h0M916.9 1016.6h0M949.7 1022.5h0M950.0 994.8h0M908.2 1093.8h0M890.5 1105.5h0M970.5 1002.3h0M924.8 1084.1h0M952.8 1003.7h0M938.3 1008.4h0M932.0 1045.3h0M852.0 1021.5h0M861.0 1025.0h0M894.2 1030.1h0M948.9 1050.8h0M954.2 986.9h0M994.5 1018.1h0M933.2 1031.4h0M1019.0 1077.3h0M946.7 1010.0h0M963.3 1014.0h0M836.1 1043.2h0M986.0 1075.8h0M950.4 1016.6h0M944.8 1009.2h0M947.0 1037.1h0M836.0 1016.3h0M995.0 1062.6h0M917.5 1032.0h0M962.1 1037.5h0M963.5 1041.4h0M924.6 1037.0h0M951.4 1049.8h0M964.9 1009.4h0M874.6 1071.8h0M931.2 1008.1h0M868.2 1075.7h0M980.1 1030.9h0M859.0 1038.9h0M849.5 1016.7h0M933.4 995.5h0M972.7 1001.9h0M865.1 1045.1h0M841.4 1053.1h0M948.5 1019.9h0M906.8 1002.7h0"/>
<path stroke="#f0ff00" d="M1053.3 903.4h0M1068.2 968.6h0M1102.0 959.1h0M1120.7 905.5h0M1062.9 890.3h0M1077.3 905.9h0M1101.6 966.6h0M1054.3 896.3h0M1098.9 953.4h0M1019.4 918.5h0M1051.7 926.1h0M1030.2 888.7h0M1085.9 919.4h0M1076.0 952.2h0M1067.2 879.5h0M1085.9 892.1h0M1118.0 919.7h0M1095.6 916.3h0M1071.1 891.8h0M1053.3 916.5h0M1053.2 935.2h0M1100.4 905.1h0M1063.2 936.7h0M1091.4 960.3h0M1087.0 905.3h0M1102.8 894.5h0M1098.9 989.3h0M1060.8 907.7h0M1077.1 968.5h0M1093.7 967.9h0M1091.5 973.6h0M1022.8 923.2h0M1058.5 882.0h0M1087.1 951.1h0M1077.8 982.3h0M1058.6 927.3h0M1037.9 905.5h0M1067.5 909.3h0M1104.6 890.9h0M1088.0 931.3h0M1094.7 900.6h0M1085.8 976.2h0M1069.4 904.9h0M1098.3 925.1h0M1075.9 926.2h0M1037.6 923.4h0M1045.1 933.1h0M1093.5 883.8h0M1076.1 920.5h0M1101.2 931.2h0M1092.8 924.6h0M1079.2 941.4h0M1053.6 885.0h0M1093.5 893.5h0M1077.3 974.0h0M1077.2 897.2h0M1070.6 933.5h0M1053.0 889.7h0M1087.4 910.5h0M1109.7 958.9h0M1046.6 895.5h0M1097.4 982.0h0M1053.8 879.5h0M1062.0 878.6h0M1091.7 951.9h0M1101.6 919.9h0M1110.1 967.4h0M1093.5 931.4h0M1069.3 926.9h0M1056.1 912.6h0M1035.5 897.5h0M1110.2 919.4h0M1076.6 877.5h0M1088.2 967.9h0"/>
<path stroke="#ffff00" d="M1184.5 934.1h0M1205.6 932.5h0M1191.0 933.2h0M1199.6 936.2h0"/>
<path stroke="#ffef00" d="M1183.1 939.0h0M1188.7 940.5h0"/>
<path stroke="#ffdf00" d="M1101.7 912.1h0M1149.6 933.8h0M1135.2 893.4h0M1109.8 921.4h0M1150.5 865.7h0M1136.7 864.1h0M1194.1 910.4h0M1117.0 899.3h0M1099.6 898.5h0M1140.8 860.3h0M1143.0 903.9h0M1116.5 864.5h0M1199.4 902.6h0M1117.5 919.1h0M1157.0 888.9h0M1118.2 903.2h0M1107.9 894.7h0M1158.3 861.2h0M1111.9 883.9h0M1158.8 899.5h0M1141.5 881.3h0M1176.2 901.0h0M1144.1 947.1h0M1120.6 879.0h0M1132.7 882.7h0M1135.2 938.4h0M1119.5 892.3h0M1165.4 924.7h0M1157.5 876.1h0M1173.0 941.7h0M1158.4 882.9h0M1126.3 870.6h0M1129.0 892.7h0M1165.3 881.9h0M1140.2 890.9h0M1156.3 921.5h0M1149.7 885.4h0M1166.7 906.4h0"/>
<path stroke="#ffcf00" d="M970.1 946.3h0M988.6 937.9h0M1174.7 911.4h0M1012.9 961.3h0M1019.3 975.0h0M1181.2 946.9h0M1125.0 921.2h0M1020.6 946.1h0M1028.9 1002.7h0M1201.5 973.9h0M940.4 968.1h0M1178.0 891.1h0M1125.5 883.2h0M1166.3 935.6h0M1180.4 897.8h0M1191.0 875.4h0M1115.4 912.1h0M1166.2 876.7h0M1005.2 926.6h0M1174.4 878.8h0M1239.1 968.0h0M1067.8 954.1h0M1150.7 919.0h0M1172.9 949.4h0M1127.6 905.2h0M1171.2 967.6h0M987.9 908.7h0M1012.9 995.4h0M981.6 1002.4h0M1109.5 906.5h0M1061.0 981.9h0M1022.4 932.0h0M1178.8 954.3h0M1012.8 912.6h0M1044.0 967.3h0M1172.6 925.1h0M1074.1 939.1h0M1102.8 890.0h0M1149.1 968.5h0M979.7 961.4h0M1076.1 966.4h0M1084.6 944.7h0M1183.2 927.1h0M996.3 919.1h0M1180.2 904.3h0M1131.5 935.6h0M1167.8 938.3h0M1175.2 972.4h0M1015.0 987.3h0M1111.9 960.9h0M997.4 967.6h0M1045.5 988.9h0M1053.6 971.6h0M1010.7 967.0h0M1005.0 967.9h0M1053.3 944.6h0M1124.7 976.0h0M1158.1 911.5h0M997.8 931.7h0M1159.6 872.6h0M1150.2 871.4h0M1168.4 906.0h0M998.8 949.4h0M1124.5 912.3h0M1026.2 952.7h0M1190.3 973.3h0M1165.3 889.7h0M1047.5 985.4h0M1167.0 917.2h0M1253.9 959.8h0M1120.0 883.6h0M1021.3 919.0h0M1145.4 879.1h0M1143.0 914.0h0M1038.7 987.5h0M1215.0 974.2h0M1188.6 919.6h0M973.8 961.1h0M1028.2 967.7h0M1038.9 928.7h0M1043.4 946.0h0M1182.2 892.8h0M1209.4 967.9h0M989.3 960.6h0M1174.1 882.4h0M989.1 973.9h0M1142.4 974.8h0M1225.5 974.2h0M1021.0 958.1h0M1086.2 959.0h0M1012.2 917.4h0M1167.7 871.2h0M965.1 966.2h0M1157.7 904.8h0M1005.5 1002.8h0M1142.9 961.1h0M1054.3 941.1h0M1051.4 962.2h0M1088.2 927.7h0M1189.5 953.5h0M1020.2 995.6h0M1077.2 995.7h0M1052.5 994.8h0M1134.0 912.4h0M1137.5 925.7h0M1287.9 960.4h0M1211.6 951.9h0M1133.8 919.1h0M1094.3 961.2h0M1134.7 875.7h0M1168.1 898.8h0M941.6 961.0h0M1247.5 980.5h0M984.6 990.7h0M1072.1 979.4h0M1117.5 965.0h0M1015.8 939.9h0M1035.6 945.7h0M1142.6 934.3h0M966.9 983.6h0M1003.3 981.7h0M1038.5 967.5h0M1139.7 986.4h0M1004.3 945.7h0M1141.1 866.8h0"/>
<path stroke="#ffbf00" d="M983.4 1009.2h0M1053.4 990.5h0M1052.8 978.9h0M1128.4 969.2h0M979.4 940.0h0M991.0 965.8h0M1222.7 955.4h0M1237.3 953.5h0M1282.0 966.2h0M973.9 968.9h0M1269.8 945.1h0M966.6 924.5h0M983.5 972.3h0M1007.2 938.7h0M1239.0 959.8h0M974.8 920.7h0M1060.8 969.4h0M1244.1 952.4h0M1076.3 945.8h0M1182.7 975.0h0M986.0 1015.0h0M1201.5 960.8h0M1198.8 947.2h0M1256.6 967.7h0M1006.2 975.0h0M1001.1 933.1h0M1175.9 951.4h0M1261.1 968.7h0M1240.7 971.1h0M1251.9 957.8h0M1239.2 974.4h0M1027.6 924.0h0M1042.4 927.3h0M946.6 940.0h0M948.5 947.1h0M980.4 986.5h0M980.7 963.7h0M1303.7 960.1h0M1030.9 1011.2h0M1246.2 975.8h0M990.4 1022.4h0M1266.7 977.4h0M1010.7 955.5h0M994.8 926.3h0M1230.8 960.6h0M1223.5 963.0h0M989.8 944.2h0M980.5 932.0h0M1047.7 995.7h0M1052.1 1011.5h0M1270.8 974.9h0M956.4 959.6h0M1279.8 946.0h0M1051.9 934.7h0M1244.6 980.1h0M1287.5 954.3h0M1245.8 953.6h0M1247.3 977.4h0M972.7 953.9h0M1255.7 959.7h0M970.7 982.7h0M1165.2 961.4h0M1134.0 953.8h0M1256.7 981.0h0M1221.3 958.3h0M1271.8 960.3h0M1001.8 987.8h0M1277.9 955.7h0M1192.8 945.9h0M1043.4 940.4h0M1085.0 953.7h0M1277.1 969.3h0M1028.8 972.2h0M1196.7 959.0h0M1076.4 973.6h0M1030.0 981.9h0M1196.4 954.2h0M1154.5 962.2h0M989.5 994.1h0M1064.4 959.9h0M1263.2 962.6h0M1230.3 947.6h0M1060.7 942.9h0M1233.8 951.9h0M1052.9 973.5h0M1046.3 1003.3h0M1229.3 961.1h0M1019.7 987.7h0M1101.4 960.0h0M1010.8 926.0h0M1111.3 961.2h0M1010.5 945.0h0M1038.7 940.7h0M1264.1 951.4h0M1155.9 966.5h0M1232.5 949.4h0M1076.3 961.2h0M950.9 974.0h0M998.1 953.7h0M1271.8 964.9h0M1035.4 962.0h0M1126.4 975.1h0M1239.6 947.6h0M1215.1 960.9h0M1172.2 959.4h0M1211.9 970.0h0M1067.5 972.7h0M1035.5 1010.7h0M1019.8 940.6h0M1139.1 985.5h0M965.5 976.0h0M1044.1 974.1h0M1247.7 961.4h0M1063.8 976.5h0M1247.0 976.3h0M1231.8 972.4h0M995.0 1023.1h0M1165.6 954.5h0M1296.2 962.6h0M1224.9 974.5h0M1021.3 910.6h0M1246.5 939.0h0M1263.5 962.0h0M1230.9 965.3h0M1061.3 940.0h0M1019.9 968.8h0M1270.5 982.8h0M1284.1 970.1h0M1165.3 946.2h0M1022.8 954.9h0M1231.6 969.0h0M1251.0 967.6h0M1281.6 973.9h0M1239.5 952.2h0M1034.8 932.3h0"/>
<path stroke="#ffaf00" d="M1215.7 877.7h0M1287.9 864.0h0M1261.9 850.2h0M1233.1 925.9h0M1285.6 834.1h0M1233.8 883.9h0M1207.8 896.1h0M1255.4 932.4h0M1250.4 912.7h0M1191.5 890.2h0M1272.7 899.5h0M1249.4 828.2h0M1229.9 892.1h0M1231.6 913.1h0M1224.8 918.4h0M1199.4 869.3h0M1263.2 872.5h0M1272.5 926.8h0M1250.5 906.6h0M1288.3 826.8h0M1237.6 832.9h0M1248.5 818.0h0M1267.7 842.7h0M1198.1 914.6h0M1295.5 836.0h0M1254.1 807.4h0M1223.4 873.8h0M1272.2 937.6h0M1253.7 841.0h0M1210.0 918.4h0M1289.2 849.8h0M1246.5 898.7h0M1270.2 856.3h0M1215.3 871.2h0M1249.3 917.6h0M1262.9 822.5h0M1279.1 910.6h0M1278.1 814.7h0M1256.9 850.5h0M1304.4 823.3h0M1272.4 902.6h0M1245.9 891.2h0M1255.1 885.9h0M1249.9 863.5h0M1197.0 912.8h0M1255.2 869.2h0M1293.3 890.7h0M1248.9 841.2h0M1270.8 848.6h0M1239.7 929.5h0M1239.4 919.7h0M1222.6 937.2h0M1263.3 912.3h0M1287.6 839.6h0M1296.4 821.5h0M1239.4 879.2h0M1222.8 889.9h0M1282.1 885.9h0M1223.6 832.3h0M1248.0 927.5h0M1273.7 911.2h0M1294.6 831.0h0M1287.3 908.4h0M1255.4 889.2h0M1269.9 805.3h0M1298.7 928.9h0M1290.8 802.7h0M1260.4 886.1h0"/>
<path stroke="#ff9f00" d="M1190.5 912.3h0M1209.8 891.2h0M1303.9 704.5h0M1238.4 814.2h0M1230.1 898.1h0M1287.3 660.6h0M1258.6 933.8h0M1282.1 707.2h0M1303.3 673.0h0M1196.9 926.1h0M1255.0 856.0h0M1319.5 691.6h0M1217.9 905.3h0M1268.5 689.9h0M1287.5 641.2h0M1255.1 827.4h0M1232.8 841.7h0M1240.7 676.0h0M1252.3 905.5h0M1262.4 897.4h0M1304.1 718.1h0M1237.2 907.8h0M1222.6 898.6h0M1224.7 883.0h0M1263.8 836.9h0M1269.8 882.4h0M1214.5 927.6h0M1231.2 822.7h0M1330.4 838.3h0M1271.9 813.7h0M1181.0 890.4h0M1309.7 662.5h0M1270.3 920.7h0M1278.0 888.7h0M1247.5 835.0h0M1277.2 819.5h0M1221.5 932.3h0M1278.3 876.9h0M1236.9 910.9h0M1278.4 807.3h0M1264.2 708.8h0M1263.4 649.5h0M1278.2 836.5h0M1311.8 841.9h0M1256.3 820.6h0M1198.8 891.5h0M1207.2 925.6h0M1279.5 655.3h0M1247.2 867.6h0M1326.3 655.2h0M1229.1 907.1h0M1302.1 650.3h0M1270.8 817.9h0M1240.7 641.5h0M1270.4 660.4h0M1228.7 931.3h0M1181.3 912.1h0M1328.4 646.5h0M1283.8 843.5h0M1205.0 862.5h0M1182.9 919.3h0M1185.2 900.7h0M1272.7 837.0h0M1294.3 883.4h0M1285.2 882.4h0M1326.7 848.9h0M1289.0 876.7h0M1335.8 663.2h0M1288.1 855.9h0M1262.6 828.2h0M1310.7 831.6h0M1201.3 884.5h0M1263.1 815.7h0M1199.8 879.1h0M1253.1 667.3h0M1272.0 641.2h0M1274.9 827.6h0M1223.7 903.2h0M1237.0 871.6h0M1235.5 808.8h0M1311.9 690.3h0M1310.9 684.7h0M1326.9 697.6h0M1249.1 806.5h0M1295.7 668.4h0M1326.5 682.6h0M1345.7 688.0h0M1252.3 834.1h0M1221.5 926.6h0M1294.6 815.8h0M1255.4 877.1h0M1271.4 869.1h0M1263.4 636.0h0M1327.7 675.1h0M1319.4 842.7h0M1277.6 898.4h0M1322.6 837.5h0M1206.6 935.0h0M1179.9 884.1h0M1321.9 848.6h0M1262.6 839.8h0M1264.7 890.1h0M1297.0 695.6h0M1328.1 695.1h0M1261.0 863.7h0M1191.3 921.4h0M1230.5 810.3h0M1330.0 842.7h0M1238.0 935.4h0M1228.6 920.2h0M1266.1 854.9h0M1318.6 832.0h0M1289.9 895.6h0M1263.9 689.5h0M1255.2 853.4h0M1246.7 821.2h0M1214.5 885.3h0M1264.5 877.3h0M1306.2 815.4h0"/>
<path stroke="#ff8f00" d="M1269.5 590.5h0M1273.2 646.7h0M1335.5 675.5h0M1254.2 635.6h0M1240.6 598.0h0M1281.9 584.3h0M1286.2 626.6h0M1262.1 640.8h0M1314.9 699.3h0M1289.4 687.3h0M1280.0 594.6h0M1251.0 618.3h0M1321.2 668.1h0M1254.1 612.2h0M1228.9 605.4h0M1229.5 612.6h0M1295.4 662.8h0M1247.5 598.3h0M1240.2 688.4h0M1219.3 637.4h0M1249.4 679.2h0M1313.2 653.6h0M1256.5 660.1h0M1262.7 606.9h0M1274.8 653.1h0M1280.6 641.2h0M1242.6 622.1h0M1271.9 627.9h0M1236.5 593.2h0M1245.2 607.7h0M1320.5 682.1h0M1302.9 695.7h0M1280.4 662.5h0M1295.4 688.7h0M1272.6 581.2h0M1246.5 658.9h0M1320.3 676.1h0M1221.0 600.4h0M1278.3 697.0h0M1279.5 647.5h0M1249.4 641.1h0M1249.2 647.1h0M1340.2 655.8h0M1295.1 652.8h0M1316.9 646.0h0M1286.7 619.0h0M1213.6 627.2h0M1255.4 576.6h0M1270.9 668.1h0M1269.2 701.9h0"/>
<path stroke="#ff8000" d="M1254.7 704.7h0M1237.1 615.7h0M1228.4 618.7h0M1254.4 681.2h0M1245.8 690.6h0M1293.5 612.8h0M1230.4 627.4h0M1263.0 625.8h0M1311.2 704.6h0M1245.9 591.9h0M1276.6 621.8h0M1278.9 676.2h0M1269.8 622.1h0M1238.0 689.4h0M1214.9 613.4h0M1327.8 664.5h0M1342.2 677.2h0M1229.3 634.4h0M1278.8 604.5h0M1297.3 650.4h0M1286.7 695.3h0M1256.3 601.0h0M1215.9 602.1h0M1359.0 673.5h0M1263.7 675.3h0M1335.3 670.1h0M1296.1 677.7h0M1272.9 612.8h0M1266.9 570.6h0M1225.3 613.9h0M1261.4 598.1h0M1298.6 702.8h0M1246.9 634.8h0M1303.7 682.2h0M1322.6 655.3h0M1220.3 585.0h0M1327.6 688.9h0M1343.0 661.6h0M1336.3 650.5h0M1300.2 661.0h0M1254.3 594.5h0M1225.5 592.8h0M1302.6 636.2h0M1260.8 590.8h0M1285.8 673.7h0M1246.7 625.0h0M1287.0 653.2h0M1319.0 633.5h0M1277.5 689.6h0M1224.0 604.8h0M1246.4 586.9h0M1318.6 706.7h0M1303.6 653.1h0M1264.8 612.7h0M1254.4 584.9h0M1222.3 620.1h0"/>
<path stroke="#ff6000" d="M1352.2 807.1h0M1344.1 813.8h0M1385.9 828.6h0M1333.7 869.3h0M1313.8 843.2h0M1379.5 860.9h0M1337.8 842.4h0M1340.9 830.0h0M1345.4 834.8h0M1364.2 869.9h0M1311.8 865.4h0M1343.6 855.0h0M1361.6 779.3h0M1343.1 896.6h0M1373.3 884.5h0M1343.9 822.9h0M1353.3 816.2h0M1348.4 860.4h0M1338.6 794.0h0M1345.4 785.3h0M1346.3 842.2h0M1352.6 876.2h0M1305.4 862.9h0M1408.2 815.0h0M1379.0 876.5h0M1351.7 835.1h0M1356.8 823.7h0M1375.8 843.8h0M1391.5 885.3h0M1392.0 828.7h0M1302.3 849.9h0M1368.8 902.2h0"/>
<path stroke="#ff5000" d="M1320.4 835.8h0M1318.1 855.4h0M1328.7 838.2h0M1398.9 890.5h0M1311.9 916.0h0M1360.8 870.8h0M1375.4 816.0h0M1334.0 896.3h0M1382.9 815.0h0M1327.5 905.6h0M1329.0 883.3h0M1357.1 891.1h0M1357.0 889.3h0M1390.8 870.7h0M1334.0 914.8h0M1381.3 875.4h0M1374.2 796.4h0M1358.8 883.8h0M1343.7 893.6h0M1375.5 897.4h0M1359.9 859.8h0M1398.7 889.3h0M1365.8 829.6h0M1356.6 891.4h0M1405.8 870.8h0M1382.7 874.2h0M1368.1 799.2h0M1334.8 821.5h0M1352.6 841.3h0M1405.7 870.8h0M1351.9 828.9h0M1383.5 865.1h0"/>
<path stroke="#ff4000" d="M1440.3 662.6h0M1455.9 676.9h0M1594.5 654.5h0M1478.1 661.9h0M1474.3 677.6h0M1463.6 635.0h0M1456.7 810.2h0M1440.4 676.7h0M1547.2 625.3h0M1472.5 827.3h0M1441.4 652.5h0M1448.5 665.5h0M1577.8 647.1h0M1458.9 652.9h0M1555.9 666.9h0M1559.2 617.8h0M1479.7 830.4h0M1493.6 815.1h0M1528.1 654.3h0M1482.8 667.7h0M1546.4 620.3h0M1553.1 614.3h0M1562.0 661.6h0M1528.5 660.8h0M1553.2 639.6h0M1561.0 632.1h0M1473.9 812.3h0M1577.2 690.4h0M1466.8 648.3h0M1455.1 650.6h0M1594.9 669.5h0M1433.1 647.0h0M1590.3 675.1h0M1473.7 631.8h0M1589.0 640.0h0M1554.9 634.2h0M1446.9 675.0h0M1446.7 657.3h0M1547.7 675.4h0M1554.6 604.1h0M1463.2 640.7h0M1449.5 646.5h0M1486.9 799.6h0M1466.5 807.3h0M1473.8 671.3h0M1537.2 641.3h0M1548.0 632.9h0M1460.8 683.0h0M1448.3 670.5h0M1471.8 806.6h0M1577.6 623.3h0M1474.1 802.1h0M1480.5 809.8h0M1428.6 656.2h0M1456.8 816.1h0M1537.4 660.0h0M1442.4 669.0h0M1440.6 690.3h0M1489.6 805.6h0M1465.8 821.7h0M1482.9 819.6h0M1555.3 698.6h0M1602.6 669.8h0M1466.1 670.2h0M1594.1 625.2h0M1570.3 649.1h0M1483.6 653.1h0M1457.0 636.2h0M1465.0 804.5h0M1496.1 791.7h0M1458.7 691.0h0M1502.7 823.7h0M1457.9 640.9h0M1522.5 649.1h0M1458.8 669.0h0"/>
<path stroke="#ff3000" d="M1611.1 668.2h0M1615.8 740.0h0M1624.4 704.7h0M1510.8 642.4h0M1555.4 630.0h0M1593.6 661.7h0M1584.8 723.5h0M1579.4 730.2h0M1570.6 705.4h0M1611.8 711.2h0M1578.7 739.5h0M1561.6 676.1h0M1572.7 688.9h0M1551.9 689.4h0M1580.8 673.7h0M1569.6 669.8h0M1610.8 737.9h0M1620.9 689.8h0M1617.0 710.7h0M1586.8 681.5h0M1563.8 673.9h0M1568.9 730.0h0M1567.8 605.5h0M1649.2 655.1h0M1545.4 704.3h0M1545.1 688.0h0M1537.7 675.5h0M1569.1 670.7h0M1628.5 720.3h0M1564.8 614.8h0M1585.8 731.1h0M1595.8 739.8h0M1603.3 640.9h0M1579.3 663.0h0M1556.6 688.5h0M1571.4 649.3h0M1605.2 699.0h0M1639.9 636.5h0M1563.4 716.4h0M1594.2 718.3h0M1612.1 622.6h0M1562.5 654.4h0M1525.4 724.7h0M1586.6 682.1h0M1555.8 681.7h0M1546.5 685.6h0M1551.8 605.2h0M1586.2 709.9h0M1604.8 687.1h0M1585.2 655.0h0M1546.2 660.7h0M1522.8 622.6h0M1587.0 648.2h0M1509.9 661.2h0M1544.9 731.5h0M1585.6 626.5h0M1570.4 725.9h0M1570.3 621.5h0M1570.0 739.4h0M1521.7 653.6h0M1552.9 736.3h0M1578.5 674.7h0M1552.2 647.3h0M1580.8 654.4h0M1585.1 717.1h0M1588.2 701.6h0M1577.5 693.2h0M1585.3 664.5h0M1545.5 719.4h0M1568.5 693.1h0M1572.9 629.4h0M1553.5 733.9h0M1561.9 630.3h0M1663.1 648.1h0M1597.4 732.6h0M1594.1 710.8h0"/>
<path stroke="#ff2000" d="M1515.9 781.3h0M1519.3 715.5h0M1578.4 681.5h0M1595.0 680.5h0M1536.9 717.0h0M1505.2 714.8h0M1603.7 736.7h0M1548.5 782.6h0M1551.5 705.4h0M1507.6 739.0h0M1542.2 738.6h0M1596.5 724.1h0M1584.7 695.8h0M1579.1 708.2h0M1557.6 751.3h0M1562.6 703.8h0M1568.0 768.7h0M1529.0 766.9h0M1578.6 716.2h0M1552.2 724.4h0M1553.5 737.3h0M1505.9 764.4h0M1595.1 752.0h0M1535.0 779.8h0M1602.8 721.1h0M1551.8 754.5h0M1491.4 763.2h0M1524.3 746.0h0M1562.6 753.2h0M1546.2 718.7h0M1560.9 684.9h0M1556.0 695.3h0M1520.1 735.9h0M1580.9 659.9h0M1545.4 774.1h0M1601.9 752.3h0M1549.1 712.4h0M1611.4 702.5h0M1529.1 743.6h0M1621.3 727.0h0M1591.2 752.5h0M1498.2 746.5h0M1612.0 690.4h0M1628.3 694.5h0M1513.3 731.1h0M1583.1 737.2h0M1599.5 729.4h0M1516.3 721.9h0M1536.6 725.3h0M1587.5 668.2h0M1635.1 697.5h0M1529.8 757.5h0M1607.0 744.7h0M1554.6 708.8h0M1610.5 717.0h0M1572.6 751.3h0M1602.8 669.4h0M1603.2 707.2h0M1546.3 734.3h0M1577.2 724.8h0M1554.1 772.2h0M1565.5 725.9h0M1531.1 725.6h0M1620.5 716.4h0M1548.0 764.5h0M1562.9 712.2h0M1507.2 732.5h0M1592.1 689.6h0M1619.0 694.5h0M1610.3 724.3h0M1617.6 683.0h0M1619.6 696.8h0M1553.3 745.5h0M1570.2 683.1h0M1523.6 766.1h0M1513.3 696.5h0M1546.5 725.3h0"/>
<path stroke="#ff1000" d="M1507.5 777.9h0M1514.1 751.5h0M1422.3 773.7h0M1425.7 704.1h0M1433.1 733.7h0M1530.8 794.4h0M1410.3 717.6h0M1394.4 786.1h0M1466.2 745.0h0M1539.5 749.8h0M1407.7 779.9h0M1473.7 711.5h0M1447.8 754.7h0M1455.3 758.8h0M1500.2 697.1h0M1496.9 762.8h0M1394.3 779.9h0M1512.8 708.9h0M1450.5 686.9h0M1466.7 753.8h0M1521.4 760.5h0M1361.4 710.6h0M1516.2 731.0h0M1531.6 724.8h0M1522.8 722.4h0M1406.3 737.2h0M1538.2 736.8h0M1526.6 717.8h0M1512.7 759.2h0M1424.7 737.5h0M1409.8 681.3h0M1390.3 700.0h0M1344.2 751.5h0M1457.4 722.4h0M1416.1 711.6h0M1374.3 667.1h0M1434.2 785.4h0M1383.0 725.2h0M1504.8 730.8h0M1426.5 754.2h0M1488.8 773.0h0M1434.1 724.5h0M1436.4 690.4h0M1475.8 752.5h0M1497.0 738.7h0M1545.6 744.2h0M1536.1 767.8h0M1522.3 786.5h0M1390.5 730.6h0M1416.2 780.7h0M1422.1 697.0h0M1409.2 725.0h0M1353.8 766.9h0M1530.9 732.1h0M1505.8 716.7h0M1406.4 759.2h0M1360.1 764.2h0M1472.6 697.3h0M1493.3 786.0h0M1468.3 724.5h0M1389.6 755.3h0M1531.3 751.6h0M1425.9 765.0h0M1443.0 695.6h0M1492.0 754.0h0M1360.7 769.2h0M1502.5 759.4h0M1466.4 700.8h0M1538.0 760.0h0M1380.1 676.5h0M1392.7 683.8h0M1402.8 703.9h0M1418.1 753.3h0M1390.3 792.9h0M1400.9 757.7h0M1342.1 730.9h0M1385.0 710.1h0M1494.3 753.7h0M1508.4 787.8h0M1501.6 752.9h0M1373.0 716.3h0M1480.9 709.4h0M1531.5 772.7h0M1529.9 708.5h0M1368.9 758.0h0M1516.1 786.2h0M1521.8 775.6h0M1484.0 730.9h0M1411.0 786.4h0M1398.5 719.8h0M1479.8 775.5h0M1521.0 738.6h0M1427.1 711.6h0M1422.0 781.3h0M1432.6 684.2h0M1368.9 681.9h0M1486.8 724.0h0M1401.7 744.9h0M1553.6 716.1h0M1408.1 730.3h0M1415.6 682.2h0M1449.6 743.4h0M1441.0 756.4h0"/>
<path stroke="#ff0000" d="M1383.6 764.1h0M1375.4 690.7h0M1433.5 770.5h0M1433.6 670.8h0M1537.6 724.4h0M1336.7 734.2h0M1448.1 726.4h0M1399.0 781.8h0M1391.2 716.1h0M1424.7 730.0h0M1481.6 751.4h0M1353.1 681.8h0M1449.4 772.4h0M1483.0 716.0h0M1416.6 759.1h0M1540.1 717.2h0M1425.3 787.4h0M1468.6 780.8h0M1512.4 723.8h0M1456.6 727.0h0M1369.2 743.5h0M1367.1 730.0h0M1391.6 775.2h0M1357.6 786.7h0M1376.9 725.8h0M1440.0 718.2h0M1446.7 765.2h0M1432.5 710.6h0M1473.1 703.8h0M1336.8 751.4h0M1432.3 750.8h0M1433.5 758.9h0M1391.2 764.9h0M1345.9 712.7h0M1497.2 710.9h0M1393.3 691.4h0M1459.4 772.9h0M1456.1 737.0h0M1400.8 793.3h0M1472.4 725.3h0M1417.6 732.3h0M1479.8 723.7h0M1454.9 683.2h0M1452.2 752.9h0M1495.1 725.9h0M1418.7 697.6h0M1382.6 713.0h0M1384.1 731.8h0M1432.9 700.4h0M1496.7 731.9h0M1400.2 764.2h0M1489.0 745.9h0M1382.6 704.8h0M1506.8 707.5h0M1431.9 765.2h0M1345.4 744.0h0M1379.2 745.6h0M1409.2 701.3h0M1349.8 728.5h0M1411.1 754.8h0"/>
<path stroke="#ff0000" d="M1488.7 702.0h0M1255.7 805.5h0M1263.3 793.5h0M1431.9 793.3h0M1280.6 759.2h0M1254.0 824.3h0M1454.7 743.4h0M1456.5 674.6h0M1218.0 739.9h0M1465.2 673.5h0M1233.8 787.1h0M1386.5 750.9h0M1377.9 759.9h0M1434.4 738.5h0M1237.4 747.4h0M1300.8 758.5h0M1241.9 696.0h0M1212.4 804.6h0M1185.3 780.6h0M1377.2 750.6h0M1462.6 732.6h0M1467.3 667.7h0M1245.0 704.0h0M1457.5 766.2h0M1215.6 814.7h0M1354.6 705.2h0M1253.5 799.0h0M1268.9 806.3h0M1412.6 723.7h0M1247.6 689.3h0M1446.7 802.7h0M1462.3 710.0h0M1480.9 737.0h0M1246.7 723.9h0M1500.3 720.3h0M1265.6 780.9h0M1223.6 792.3h0M1239.7 773.8h0M1208.9 807.0h0M1237.0 703.2h0M1417.7 689.8h0M1474.1 730.9h0M1260.1 751.7h0M1407.8 712.3h0M1220.4 731.7h0M1186.9 782.8h0M1246.6 738.9h0M1464.3 689.1h0M1206.1 737.2h0M1217.2 739.7h0M1258.7 786.9h0M1205.6 753.6h0M1427.8 673.9h0M1385.1 697.4h0M1255.9 771.4h0M1431.5 677.0h0M1241.7 724.9h0M1344.4 721.7h0M1277.6 765.5h0M1407.6 671.0h0M1221.0 723.8h0M1190.3 750.8h0M1232.6 793.0h0M1384.5 739.2h0M1392.2 743.5h0M1472.5 774.1h0M1204.6 724.5h0M1215.6 709.3h0M1375.5 737.4h0M1297.3 767.4h0M1480.8 761.0h0M1272.8 742.2h0M1244.0 683.4h0M1402.4 690.0h0M1246.0 758.8h0M1200.3 758.0h0M1298.4 762.0h0M1482.8 743.8h0M1168.1 751.7h0M1272.7 737.1h0M1481.9 781.2h0M1206.6 701.5h0M1223.2 802.6h0M1427.1 727.9h0M1465.0 773.0h0M1397.8 698.7h0M1255.7 829.0h0M1499.1 771.8h0M1506.6 758.7h0M1254.9 779.0h0M1272.5 760.1h0M1458.4 697.2h0M1505.7 745.6h0M1214.8 787.5h0M1238.5 749.8h0M1405.3 691.2h0M1397.4 732.3h0M1459.9 802.3h0M1180.7 806.1h0M1352.3 711.4h0M1288.5 785.5h0M1264.2 801.0h0M1475.3 745.3h0M1211.6 730.2h0M1207.2 793.2h0M1215.4 821.9h0M1197.7 766.7h0M1196.4 800.6h0M1401.4 736.1h0M1352.3 758.0h0M1202.6 715.6h0M1293.6 715.7h0M1406.4 743.8h0M1385.3 744.5h0M1237.9 789.3h0M1373.9 772.9h0M1269.4 724.0h0M1418.6 746.5h0M1497.4 767.0h0M1448.8 739.5h0M1264.3 772.6h0M1208.3 799.5h0M1416.3 738.0h0M1440.2 703.8h0M1426.0 682.3h0M1232.5 781.6h0M1474.4 763.7h0M1391.8 721.0h0M1476.1 687.4h0M1483.0 698.6h0M1440.7 732.5h0M1442.4 738.1h0M1464.3 786.2h0M1343.3 765.3h0M1229.2 730.9h0M1504.3 725.0h0M1458.0 710.6h0M1441.3 666.8h0M1337.4 711.5h0M1376.2 732.5h0M1408.9 768.7h0M1269.6 786.0h0M1468.3 755.6h0M1238.3 792.2h0"/>
<path stroke="#ff0000" d="M1196.6 725.7h0M1184.3 717.3h0M1272.0 689.9h0M1251.5 743.8h0M1272.5 766.3h0M1263.6 785.5h0M1279.1 739.5h0M1301.5 802.3h0M1229.0 759.8h0M1221.9 751.5h0M1248.7 792.5h0M1231.3 810.4h0M1261.3 758.6h0M1238.9 737.3h0M1232.2 774.2h0M1225.5 744.5h0M1249.8 787.7h0M1287.1 732.1h0M1200.3 738.4h0M1226.3 725.5h0M1238.0 778.9h0M1279.3 745.2h0M1245.8 844.1h0M1179.9 762.7h0M1244.5 718.1h0M1198.4 727.9h0M1173.2 789.0h0M1273.7 800.0h0M1180.7 744.8h0M1296.6 786.3h0M1208.2 761.1h0M1215.2 800.9h0M1262.1 726.5h0M1207.8 778.6h0M1288.3 747.4h0M1265.1 731.9h0M1183.2 863.8h0M1211.9 753.1h0M1270.0 733.4h0M1253.7 733.3h0M1189.6 732.1h0M1261.0 808.4h0M1248.8 752.7h0M1181.4 770.9h0M1255.1 768.5h0M1243.5 837.1h0M1197.8 816.9h0M1269.0 799.6h0M1188.8 808.7h0M1183.7 732.2h0M1280.8 785.2h0M1202.7 766.6h0M1221.8 773.5h0M1208.7 841.8h0M1197.1 728.1h0M1226.1 860.3h0M1200.1 795.4h0M1216.0 692.7h0M1183.2 769.9h0M1262.8 709.4h0M1169.3 760.6h0M1204.9 746.9h0M1236.3 765.0h0M1170.6 765.0h0M1245.7 774.3h0M1199.2 752.9h0M1183.2 800.0h0M1246.8 809.7h0M1186.8 716.3h0M1231.4 738.9h0M1221.9 765.7h0M1224.0 781.8h0M1197.1 868.4h0M1263.9 718.8h0M1222.4 831.2h0M1287.5 766.3h0M1253.4 793.9h0M1203.0 719.4h0M1271.5 778.7h0M1247.1 778.1h0M1206.9 729.6h0M1189.3 768.3h0M1265.2 816.1h0M1241.2 863.8h0M1233.2 744.1h0M1271.5 823.9h0M1286.7 752.2h0M1189.0 759.0h0M1216.2 758.7h0M1185.5 711.9h0M1260.7 766.3h0M1222.1 721.7h0M1222.5 710.3h0M1194.5 705.3h0M1225.8 785.0h0"/>
<path stroke="#f60000" d="M1394.3 780.6h0M1384.0 754.9h0M1390.8 626.8h0M1326.8 710.8h0M1430.7 724.1h0M1360.9 733.6h0M1407.1 725.2h0M1377.1 773.4h0M1313.9 731.4h0M1457.8 751.2h0M1382.3 772.7h0M1348.8 722.6h0M1392.2 645.5h0M1361.9 709.0h0M1351.5 732.1h0M1443.3 754.2h0M1408.2 723.4h0M1416.6 734.1h0M1305.3 695.5h0M1392.0 769.6h0M1298.5 730.2h0M1360.5 787.0h0M1440.3 773.2h0M1385.4 779.9h0M1345.4 794.9h0M1344.3 726.1h0M1433.1 695.0h0M1430.4 761.5h0M1426.6 732.5h0M1373.7 711.9h0M1433.1 732.8h0M1408.0 752.3h0M1311.1 764.7h0M1425.9 689.3h0M1296.4 767.2h0M1449.4 770.5h0M1323.7 719.3h0M1449.9 710.6h0M1365.4 757.8h0M1360.1 738.5h0M1392.5 745.1h0M1353.3 725.7h0M1355.2 757.8h0M1445.4 749.9h0M1373.2 778.3h0M1316.6 696.7h0M1317.5 746.3h0M1285.9 737.7h0M1304.2 736.9h0M1312.4 722.9h0M1436.4 709.9h0M1352.9 765.1h0M1350.9 737.8h0M1328.2 725.5h0M1399.7 722.7h0M1391.8 755.5h0M1382.5 744.7h0M1400.4 721.1h0M1392.7 735.1h0M1416.0 750.6h0M1351.0 785.7h0M1385.0 708.3h0M1368.7 724.7h0M1399.8 644.9h0M1301.8 780.0h0M1336.2 751.1h0M1418.8 744.4h0M1370.6 752.9h0M1416.0 773.0h0M1415.2 713.4h0M1274.8 766.2h0M1343.9 777.9h0M1424.7 708.9h0M1425.0 766.4h0M1427.5 718.0h0M1423.7 723.1h0M1353.3 702.8h0M1375.9 745.0h0M1462.3 739.5h0M1415.8 760.4h0M1304.6 745.4h0M1442.3 723.5h0M1344.6 767.9h0M1392.6 787.4h0M1417.7 723.1h0M1406.5 642.2h0M1325.0 718.2h0M1432.8 717.7h0M1336.3 772.8h0M1367.7 766.3h0M1383.9 732.5h0M1418.2 752.3h0M1401.6 715.3h0M1338.0 764.4h0M1305.9 765.8h0M1356.3 705.1h0M1376.7 717.0h0M1378.2 693.9h0M1402.4 757.8h0M1383.2 631.6h0M1340.0 738.9h0M1429.4 738.8h0M1440.3 716.8h0M1422.7 764.6h0M1311.6 707.8h0M1370.5 732.1h0M1359.3 744.7h0M1344.4 702.0h0M1374.4 729.9h0M1273.3 742.7h0M1396.5 696.9h0M1294.5 758.3h0M1339.8 760.2h0M1384.4 751.9h0M1410.6 683.8h0M1384.6 705.5h0M1284.1 745.4h0M1319.3 775.3h0M1261.7 733.6h0M1360.8 772.4h0M1386.2 772.3h0M1311.1 753.6h0M1376.6 765.7h0M1301.1 725.6h0M1286.7 750.8h0M1343.1 773.7h0M1424.6 750.0h0M1389.6 725.0h0M1385.1 738.8h0M1346.1 753.0h0M1439.3 710.5h0M1366.3 702.9h0M1393.3 771.2h0M1402.8 633.5h0M1345.1 731.4h0M1334.6 737.9h0M1400.3 742.3h0"/>
<path stroke="#e40000" d="M1328.1 738.0h0M1413.1 704.2h0M1378.4 698.0h0M1367.6 692.2h0M1359.2 764.7h0M1433.4 759.6h0M1353.7 727.4h0M1304.8 719.1h0M1353.8 690.8h0M1425.1 758.7h0M1377.4 743.9h0M1447.0 746.0h0M1295.5 726.3h0M1410.6 581.8h0M1373.2 643.3h0M1276.9 711.0h0M1416.7 724.1h0M1400.3 751.6h0M1305.1 609.6h0M1329.5 694.2h0M1320.3 767.2h0M1344.9 707.9h0M1451.4 725.0h0M1433.9 747.1h0M1337.6 667.6h0M1327.1 743.3h0M1464.3 705.0h0M1354.5 752.3h0M1455.3 779.3h0M1439.7 716.7h0M1370.0 773.5h0M1368.3 598.7h0M1382.5 719.0h0M1369.6 625.4h0M1348.3 618.5h0M1368.1 738.2h0M1348.6 598.4h0M1424.3 737.1h0M1369.7 745.2h0M1379.9 760.9h0M1368.4 591.5h0M1383.5 744.9h0M1373.9 624.1h0M1367.0 709.1h0M1385.1 629.7h0M1418.1 766.0h0M1369.8 584.3h0M1327.0 764.4h0M1401.2 709.6h0M1295.4 752.5h0M1384.1 613.3h0M1309.7 484.4h0M1277.6 757.6h0M1436.1 751.2h0M1288.4 718.1h0M1311.2 745.2h0M1374.7 649.0h0M1449.0 751.7h0M1328.3 733.1h0M1321.3 497.1h0M1393.1 703.6h0M1327.0 772.0h0M1400.7 744.3h0M1384.0 569.0h0M1367.4 748.6h0M1316.7 675.7h0M1359.2 730.4h0M1443.9 744.3h0M1401.5 748.3h0M1295.8 621.2h0M1328.4 788.6h0M1359.5 635.5h0M1346.8 679.2h0M1350.5 738.9h0M1377.8 737.0h0M1330.6 640.9h0M1397.8 717.1h0M1361.3 780.5h0M1400.5 610.4h0M1348.0 643.2h0M1347.4 745.1h0M1383.2 781.1h0M1357.5 621.1h0M1321.3 778.0h0M1456.8 761.9h0M1386.8 715.2h0M1311.2 758.8h0M1373.5 592.5h0M1386.6 644.4h0M1337.5 713.0h0M1457.0 730.8h0M1319.5 739.5h0M1336.7 733.5h0M1411.3 760.4h0M1384.0 704.4h0M1292.7 712.2h0M1417.0 737.2h0M1349.7 708.5h0M1358.7 757.9h0M1362.4 723.5h0M1367.2 616.9h0M1345.8 618.8h0M1352.5 791.4h0M1439.9 735.4h0M1351.6 743.7h0M1427.2 745.9h0M1374.9 739.1h0M1286.9 774.8h0M1361.9 638.5h0M1431.7 723.7h0M1334.0 620.0h0M1397.9 598.0h0M1372.3 723.4h0M1383.2 711.5h0M1408.3 745.6h0M1411.5 737.1h0M1393.2 760.7h0M1337.5 716.8h0M1319.0 636.3h0M1373.5 528.4h0M1336.3 703.6h0M1416.2 745.0h0M1392.1 732.2h0M1365.4 523.8h0M1339.6 779.4h0M1295.0 787.7h0M1287.0 732.2h0M1302.0 731.7h0M1248.3 516.8h0M1390.4 635.2h0M1327.8 778.1h0M1400.9 776.6h0M1336.5 746.3h0M1376.7 751.9h0M1385.5 617.4h0M1351.7 611.6h0M1411.8 599.2h0M1343.8 600.0h0M1439.7 777.9h0M1370.8 786.1h0M1384.3 759.1h0"/>
<path stroke="#d10000" d="M1362.0 593.9h0M1344.1 584.5h0M1358.4 613.1h0M1343.9 635.4h0M1394.1 605.3h0M1342.4 627.7h0M1372.7 627.0h0M1353.3 628.6h0M1362.3 606.1h0M1343.2 607.6h0M1383.6 629.7h0M1390.5 614.3h0M1356.6 629.0h0M1374.1 611.9h0M1325.4 605.7h0M1352.3 605.0h0M1350.4 637.5h0M1373.6 606.9h0"/>
<path stroke="#be0000" d="M1156.3 488.7h0M1116.5 520.8h0M1152.7 494.9h0M1174.1 534.4h0M1165.5 480.6h0M1228.6 467.0h0M1187.5 520.6h0M1198.9 511.0h0M1142.8 432.9h0M1212.3 447.0h0M1123.7 502.4h0M1182.7 509.6h0M1195.6 465.0h0M1238.2 489.5h0M1100.2 495.7h0M1186.6 487.3h0M1180.9 488.9h0M1181.7 523.1h0M1140.9 517.0h0M1166.4 503.0h0M1178.8 481.1h0M1199.0 477.6h0M1213.7 494.1h0M1141.1 460.8h0M1207.2 445.4h0M1151.2 482.3h0M1205.9 475.3h0M1177.6 508.8h0M1133.4 477.4h0M1111.5 533.1h0M1191.6 528.9h0M1156.5 447.5h0M1141.3 512.2h0M1180.1 439.8h0M1129.7 509.1h0M1229.2 522.1h0M1116.4 501.8h0M1151.2 528.9h0M1157.3 521.6h0M1119.0 494.4h0M1192.6 476.2h0M1188.0 416.6h0M1214.6 520.3h0M1108.2 476.0h0M1135.8 488.3h0M1209.2 453.4h0M1160.4 516.7h0M1215.1 488.5h0M1151.1 507.1h0M1204.8 524.6h0M1197.3 570.2h0M1206.7 481.9h0M1231.2 481.8h0M1205.6 544.2h0M1222.2 536.7h0M1196.2 453.1h0M1219.3 577.1h0M1239.3 493.3h0M1156.7 556.3h0M1205.4 443.6h0M1163.8 561.1h0M1187.7 453.9h0M1103.3 525.5h0M1231.0 489.9h0M1169.2 544.6h0M1174.4 521.4h0M1197.6 529.2h0M1118.3 481.0h0M1151.0 551.3h0M1172.7 468.6h0M1156.4 549.6h0M1133.4 544.3h0M1140.7 469.4h0M1176.0 569.9h0M1121.9 551.6h0"/>
<path stroke="#ab0000" d="M1321.5 495.5h0M1260.3 580.0h0M1295.4 601.0h0M1264.2 557.8h0M1191.6 539.2h0M1293.6 502.8h0M1220.9 513.7h0M1135.4 504.2h0M1182.9 528.9h0M1153.9 467.1h0M1336.3 599.6h0M1264.5 472.8h0M1278.2 528.9h0M1312.6 496.4h0M1351.5 528.1h0M1309.6 518.6h0M1206.7 502.5h0M1322.2 502.5h0M1330.1 508.3h0M1344.6 572.3h0M1285.1 530.6h0M1176.3 446.6h0M1215.4 510.2h0M1254.4 559.5h0M1254.2 570.6h0M1335.7 530.2h0M1288.3 504.3h0M1319.9 551.4h0M1166.7 468.9h0M1239.5 509.9h0M1185.5 544.3h0M1244.1 530.1h0M1264.6 516.0h0M1311.8 595.8h0M1334.4 549.8h0M1278.4 583.1h0M1138.6 480.2h0M1155.4 459.6h0M1320.4 521.0h0M1167.3 549.1h0M1311.2 530.4h0M1303.3 516.5h0M1358.7 544.2h0M1279.6 496.0h0M1224.5 488.6h0M1334.7 571.5h0M1182.9 451.6h0M1277.8 549.9h0M1299.9 536.1h0M1141.9 446.3h0M1132.4 511.6h0M1328.1 555.5h0M1176.5 502.8h0M1272.9 582.5h0M1143.3 501.6h0M1192.2 510.5h0M1280.1 508.0h0M1262.2 487.8h0M1124.8 481.7h0M1184.3 516.2h0M1207.4 549.3h0M1149.0 565.1h0M1246.4 543.6h0M1175.9 496.6h0M1254.7 567.7h0M1346.6 535.3h0M1138.1 473.6h0M1174.0 527.9h0M1307.8 504.5h0M1289.7 605.8h0M1320.7 556.1h0M1174.9 551.4h0M1329.5 586.4h0M1302.3 564.2h0M1280.1 555.7h0M1293.6 523.5h0M1231.9 527.0h0M1164.8 528.9h0M1153.8 462.0h0M1247.2 548.7h0M1166.5 523.4h0M1238.9 550.3h0M1158.7 529.7h0M1334.4 534.7h0M1296.8 618.3h0M1264.9 537.1h0M1333.5 592.2h0M1136.4 537.2h0M1343.8 593.4h0M1151.0 453.9h0M1215.6 530.0h0M1328.8 595.5h0M1168.0 444.5h0M1155.5 453.7h0M1150.4 502.5h0M1165.4 504.8h0M1161.1 480.7h0M1197.9 501.0h0M1286.1 572.6h0M1263.6 551.4h0M1238.1 585.6h0M1126.8 494.7h0M1319.7 578.0h0M1311.0 488.5h0M1317.2 509.9h0M1141.1 488.5h0M1357.2 537.5h0M1198.1 521.3h0M1182.4 540.0h0M1231.9 549.2h0M1304.8 593.0h0M1163.7 515.6h0M1206.8 457.8h0M1341.6 576.6h0M1197.4 490.1h0M1295.0 561.5h0M1286.9 519.6h0M1355.6 558.2h0M1188.9 439.5h0M1183.4 476.5h0M1165.6 495.0h0M1192.9 466.8h0M1200.2 536.6h0M1119.2 535.3h0M1172.8 474.3h0M1343.5 550.9h0M1312.5 571.2h0M1200.6 515.5h0M1262.7 565.4h0M1238.0 537.7h0M1195.6 458.9h0M1282.8 577.1h0M1182.2 496.8h0M1178.1 488.1h0M1255.9 523.6h0M1270.7 542.3h0M1270.3 487.8h0M1338.1 514.8h0M1302.0 528.6h0M1260.2 571.4h0M1182.2 500.9h0M1168.6 479.1h0M1305.1 551.8h0M1156.6 502.4h0M1296.0 584.0h0M1133.3 467.4h0M1191.4 484.5h0M1329.2 564.2h0M1139.5 551.2h0M1270.9 600.0h0M1319.2 599.1h0M1268.6 536.7h0M1272.7 569.9h0M1336.2 542.9h0"/>
<path stroke="#990000" d="M1179.8 495.0h0M1285.7 578.7h0M1328.8 541.3h0M1249.2 517.6h0M1285.1 565.6h0M1192.0 501.0h0M1307.6 570.2h0M1206.3 491.2h0M1215.5 530.4h0M1254.3 550.7h0M1349.2 566.2h0M1294.9 536.2h0M1281.0 536.7h0M1320.5 574.1h0M1298.7 579.8h0M1310.9 578.7h0M1215.5 509.1h0M1263.9 589.2h0M1321.6 564.7h0M1186.4 510.4h0M1200.0 504.2h0M1264.4 543.6h0M1183.2 488.1h0M1291.5 516.2h0M1183.1 528.9h0M1359.1 564.9h0M1289.6 597.9h0M1269.7 564.2h0M1241.1 566.0h0M1288.5 586.4h0M1297.4 607.4h0M1278.2 523.9h0M1304.3 604.6h0M1287.0 534.7h0M1343.4 525.1h0M1214.0 488.2h0M1288.6 551.0h0M1304.0 542.2h0M1279.1 495.3h0M1318.9 526.4h0M1294.5 517.1h0M1309.6 587.2h0M1183.0 515.1h0M1210.0 523.9h0M1188.5 486.8h0M1335.7 564.2h0M1334.4 507.3h0M1248.7 569.6h0M1327.3 529.2h0M1351.5 543.4h0M1310.4 536.2h0M1196.3 496.0h0M1269.9 557.6h0M1207.5 498.3h0M1359.3 554.5h0M1197.2 510.2h0M1327.3 524.6h0M1329.6 550.3h0M1257.0 591.0h0M1204.8 492.9h0M1183.1 520.7h0M1255.3 543.6h0M1352.2 553.0h0M1207.4 516.2h0M1199.1 522.3h0M1222.1 499.6h0M1310.3 558.5h0M1286.1 506.9h0M1256.6 529.6h0M1188.8 496.5h0M1277.4 570.7h0M1328.7 514.5h0M1319.5 593.2h0M1191.3 528.8h0M1309.7 524.3h0M1174.3 494.1h0M1345.5 510.5h0M1211.7 503.5h0M1304.6 558.8h0M1286.8 495.1h0M1189.5 521.6h0M1294.8 564.7h0M1324.6 579.9h0M1175.4 515.6h0M1270.4 494.4h0M1330.1 572.5h0M1313.6 512.5h0"/>
</g>
<g stroke="#262626" stroke-width="2.8" fill="none" stroke-opacity="0.58">
<rect x="269.3" y="133.8" width="1616.1" height="1389.5"/>
<path d="M269.3 1523.3v-17.5M269.3 133.8v17.5M269.3 1523.3h17.5M1885.4 1523.3h-17.5"/>
<path d="M673.3 1523.3v-17.5M673.3 133.8v17.5M269.3 1175.9h17.5M1885.4 1175.9h-17.5"/>
<path d="M1077.4 1523.3v-17.5M1077.4 133.8v17.5M269.3 828.5h17.5M1885.4 828.5h-17.5"/>
<path d="M1481.4 1523.3v-17.5M1481.4 133.8v17.5M269.3 481.2h17.5M1885.4 481.2h-17.5"/>
<path d="M1885.4 1523.3v-17.5M1885.4 133.8v17.5M269.3 133.8h17.5M1885.4 133.8h-17.5"/>
</g>
<g shape-rendering="crispEdges">
<rect x="1970.8" y="1495.92" width="96.8" height="25.98" fill="#000092"/>
<rect x="1970.8" y="1474.24" width="96.8" height="22.28" fill="#0000a1"/>
<rect x="1970.8" y="1452.56" width="96.8" height="22.28" fill="#0000b1"/>
<rect x="1970.8" y="1430.88" width="96.8" height="22.28" fill="#0000c1"/>
<rect x="1970.8" y="1409.20" width="96.8" height="22.28" fill="#0000d1"/>
<rect x="1970.8" y="1387.52" width="96.8" height="22.28" fill="#0000e1"/>
<rect x="1970.8" y="1365.84" width="96.8" height="22.28" fill="#0000f1"/>
<rect x="1970.8" y="1344.16" width="96.8" height="22.28" fill="#0000ff"/>
<rect x="1970.8" y="1322.48" width="96.8" height="22.28" fill="#0010ff"/>
<rect x="1970.8" y="1300.80" width="96.8" height="22.28" fill="#0020ff"/>
<rect x="1970.8" y="1279.12" width="96.8" height="22.28" fill="#0030ff"/>
<rect x="1970.8" y="1257.44" width="96.8" height="22.28" fill="#0040ff"/>
<rect x="1970.8" y="1235.76" width="96.8" height="22.28" fill="#0050ff"/>
<rect x="1970.8" y="1214.08" width="96.8" height="22.28" fill="#0060ff"/>
<rect x="1970.8" y="1192.40" width="96.8" height="22.28" fill="#0070ff"/>
<rect x="1970.8" y="1170.72" width="96.8" height="22.28" fill="#0080ff"/>
<rect x="1970.8" y="1149.05" width="96.8" height="22.28" fill="#008fff"/>
<rect x="1970.8" y="1127.37" width="96.8" height="22.28" fill="#009fff"/>
<rect x="1970.8" y="1105.69" width="96.8" height="22.28" fill="#00afff"/>
<rect x="1970.8" y="1084.01" width="96.8" height="22.28" fill="#00bfff"/>
<rect x="1970.8" y="1062.33" width="96.8" height="22.28" fill="#00cfff"/>
<rect x="1970.8" y="1040.65" width="96.8" height="22.28" fill="#00dfff"/>
<rect x="1970.8" y="1018.97" width="96.8" height="22.28" fill="#00efff"/>
<rect x="1970.8" y="997.29" width="96.8" height="22.28" fill="#00ffff"/>
<rect x="1970.8" y="975.61" width="96.8" height="22.28" fill="#00faef"/>
<rect x="1970.8" y="953.93" width="96.8" height="22.28" fill="#00fadf"/>
<rect x="1970.8" y="932.25" width="96.8" height="22.28" fill="#00facf"/>
<rect x="1970.8" y="910.57" width="96.8" height="22.28" fill="#00fabf"/>
<rect x="1970.8" y="888.89" width="96.8" height="22.28" fill="#00faaf"/>
<rect x="1970.8" y="867.21" width="96.8" height="22.28" fill="#00fa9f"/>
<rect x="1970.8" y="845.53" width="96.8" height="22.28" fill="#00fa8f"/>
<rect x="1970.8" y="823.85" width="96.8" height="22.28" fill="#00fa80"/>
<rect x="1970.8" y="802.17" width="96.8" height="22.28" fill="#00fa70"/>
<rect x="1970.8" y="780.49" width="96.8" height="22.28" fill="#5aff4b"/>
<rect x="1970.8" y="758.81" width="96.8" height="22.28" fill="#7dff32"/>
<rect x="1970.8" y="737.13" width="96.8" height="22.28" fill="#a0fc14"/>
<rect x="1970.8" y="715.45" width="96.8" height="22.28" fill="#b9ff00"/>
<rect x="1970.8" y="693.77" width="96.8" height="22.28" fill="#d7ff00"/>
<rect x="1970.8" y="672.09" width="96.8" height="22.28" fill="#f0ff00"/>
<rect x="1970.8" y="650.41" width="96.8" height="22.28" fill="#ffff00"/>
<rect x="1970.8" y="628.73" width="96.8" height="22.28" fill="#ffef00"/>
<rect x="1970.8" y="607.05" width="96.8" height="22.28" fill="#ffdf00"/>
<rect x="1970.8" y="585.37" width="96.8" height="22.28" fill="#ffcf00"/>
<rect x="1970.8" y="563.69" width="96.8" height="22.28" fill="#ffbf00"/>
<rect x="1970.8" y="542.01" width="96.8" height="22.28" fill="#ffaf00"/>
<rect x="1970.8" y="520.33" width="96.8" height="22.28" fill="#ff9f00"/>
<rect x="1970.8" y="498.65" width="96.8" height="22.28" fill="#ff8f00"/>
<rect x="1970.8" y="476.97" width="96.8" height="22.28" fill="#ff8000"/>
<rect x="1970.8" y="455.30" width="96.8" height="22.28" fill="#ff7000"/>
<rect x="1970.8" y="433.62" width="96.8" height="22.28" fill="#ff6000"/>
<rect x="1970.8" y="411.94" width="96.8" height="22.28" fill="#ff5000"/>
<rect x="1970.8" y="390.26" width="96.8" height="22.28" fill="#ff4000"/>
<rect x="1970.8" y="368.58" width="96.8" height="22.28" fill="#ff3000"/>
<rect x="1970.8" y="346.90" width="96.8" height="22.28" fill="#ff2000"/>
<rect x="1970.8" y="325.22" width="96.8" height="22.28" fill="#ff1000"/>
<rect x="1970.8" y="303.54" width="96.8" height="22.28" fill="#ff0000"/>
<rect x="1970.8" y="281.86" width="96.8" height="22.28" fill="#ff0000"/>
<rect x="1970.8" y="260.18" width="96.8" height="22.28" fill="#ff0000"/>
<rect x="1970.8" y="238.50" width="96.8" height="22.28" fill="#f60000"/>
<rect x="1970.8" y="216.82" width="96.8" height="22.28" fill="#e40000"/>
<rect x="1970.8" y="195.14" width="96.8" height="22.28" fill="#d10000"/>
<rect x="1970.8" y="173.46" width="96.8" height="22.28" fill="#be0000"/>
<rect x="1970.8" y="151.78" width="96.8" height="22.28" fill="#ab0000"/>
<rect x="1970.8" y="133.80" width="96.8" height="18.58" fill="#990000"/>
</g>
<g stroke="#262626" stroke-width="2.8" fill="none" stroke-opacity="0.85">
<rect x="1970.8" y="133.8" width="96.8" height="1387.5"/>
<path d="M2067.6 1232.2h-14"/>
<path d="M2067.6 943.2h-14"/>
<path d="M2067.6 654.1h-14"/>
<path d="M2067.6 365.0h-14"/>
</g>
<g fill="#262626" font-size="78">
<text x="269.3" y="1620.3" text-anchor="middle">-10</text>
<text x="243.5" y="1550.3" text-anchor="end">-10</text>
<text x="673.3" y="1620.3" text-anchor="middle">-5</text>
<text x="243.5" y="1202.9" text-anchor="end">-5</text>
<text x="1077.4" y="1620.3" text-anchor="middle">0</text>
<text x="243.5" y="855.5" text-anchor="end">0</text>
<text x="1481.4" y="1620.3" text-anchor="middle">5</text>
<text x="243.5" y="508.2" text-anchor="end">5</text>
<text x="1885.4" y="1620.3" text-anchor="middle">10</text>
<text x="243.5" y="160.8" text-anchor="end">10</text>
<text x="2087" y="1547.3" font-size="76">0</text>
<text x="2087" y="1258.2" font-size="76">5</text>
<text x="2087" y="969.2" font-size="76">10</text>
<text x="2087" y="680.1" font-size="76">15</text>
<text x="2087" y="391.0" font-size="76">20</text>
</g>
<text x="431" y="1722" textLength="1288" lengthAdjust="spacingAndGlyphs" font-size="86" fill="#262626">Displacement in N-S direction (mm)</text>
<text transform="translate(109.3 1488.5) rotate(-90)" textLength="1317" lengthAdjust="spacingAndGlyphs" font-size="86" fill="#262626">Displacement in E-W direction (mm)</text>
<text x="429.5" y="309" textLength="242.5" lengthAdjust="spacingAndGlyphs" font-size="97" fill="#000">447 m</text>
<text x="1872" y="93" textLength="289" lengthAdjust="spacingAndGlyphs" font-size="98" fill="#000">Time/h</text>
</svg>
</body>
</html>
